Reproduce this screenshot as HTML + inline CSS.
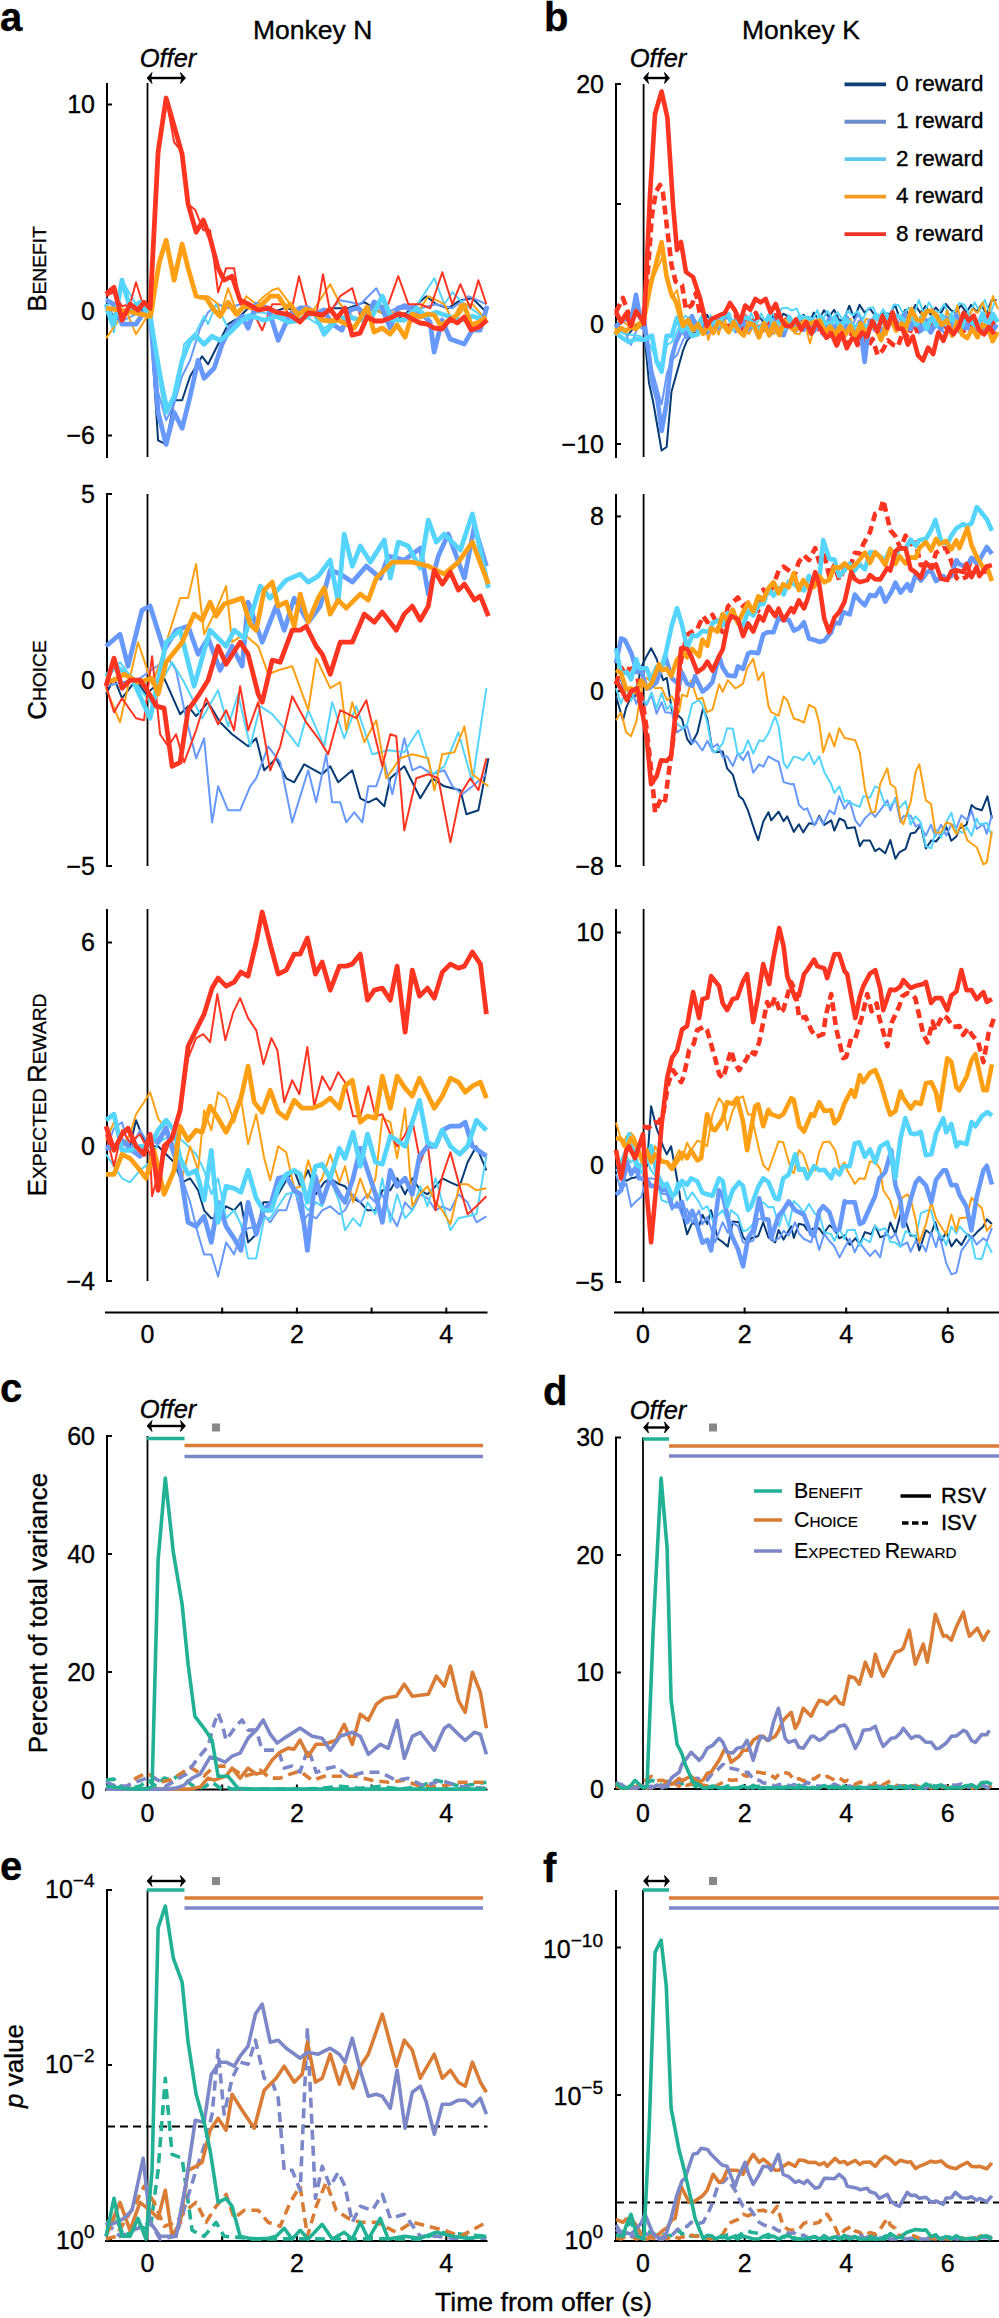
<!DOCTYPE html>
<html><head><meta charset="utf-8"><style>
html,body{margin:0;padding:0;background:#fff;}
svg{display:block;font-family:"Liberation Sans", sans-serif;}
text{stroke:#000;stroke-width:0.35px;}
</style></head><body>
<svg width="999" height="2318" viewBox="0 0 999 2318">
<rect width="999" height="2318" fill="#fff"/>
<text x="0" y="31" font-size="40" text-anchor="start" font-weight="bold" font-style="normal" >a</text>
<text x="544" y="31" font-size="40" text-anchor="start" font-weight="bold" font-style="normal" >b</text>
<text x="253" y="39" font-size="26.5" text-anchor="start" font-weight="normal" font-style="normal" >Monkey N</text>
<text x="742" y="39" font-size="26.5" text-anchor="start" font-weight="normal" font-style="normal" >Monkey K</text>
<text x="168" y="67" font-size="25.5" font-style="italic" text-anchor="middle">Offer</text>
<line x1="150.5" y1="78" x2="182" y2="78" stroke="#000" stroke-width="2.4" />
<path d="M147.0,78 L152.0,72.5 L150.7,78 L152.0,83.5 z M185.5,78 L180.5,72.5 L181.8,78 L180.5,83.5 z" fill="#000" stroke="#000" stroke-width="0.8" stroke-linejoin="round"/>
<text x="658" y="67" font-size="25.5" font-style="italic" text-anchor="middle">Offer</text>
<line x1="647" y1="78" x2="666" y2="78" stroke="#000" stroke-width="2.4" />
<path d="M643.5,78 L648.5,72.5 L647.2,78 L648.5,83.5 z M669.5,78 L664.5,72.5 L665.8,78 L664.5,83.5 z" fill="#000" stroke="#000" stroke-width="0.8" stroke-linejoin="round"/>
<line x1="107" y1="83" x2="107" y2="458" stroke="#000" stroke-width="2.0" />
<line x1="106" y1="104.5" x2="112" y2="104.5" stroke="#000" stroke-width="2.0" />
<text x="95" y="113.3" font-size="25" text-anchor="end">10</text>
<line x1="106" y1="311.4" x2="112" y2="311.4" stroke="#000" stroke-width="2.0" />
<text x="95" y="320.2" font-size="25" text-anchor="end">0</text>
<line x1="106" y1="435.5" x2="112" y2="435.5" stroke="#000" stroke-width="2.0" />
<text x="95" y="444.3" font-size="25" text-anchor="end">−6</text>
<line x1="147.5" y1="83" x2="147.5" y2="457" stroke="#000" stroke-width="1.8" />
<line x1="616" y1="84" x2="616" y2="458" stroke="#000" stroke-width="2.0" />
<line x1="615" y1="84" x2="621" y2="84" stroke="#000" stroke-width="2.0" />
<text x="604" y="92.8" font-size="25" text-anchor="end">20</text>
<line x1="615" y1="204" x2="621" y2="204" stroke="#000" stroke-width="2.0" />
<line x1="615" y1="324" x2="621" y2="324" stroke="#000" stroke-width="2.0" />
<text x="604" y="332.8" font-size="25" text-anchor="end">0</text>
<line x1="615" y1="444" x2="621" y2="444" stroke="#000" stroke-width="2.0" />
<text x="604" y="452.8" font-size="25" text-anchor="end">−10</text>
<line x1="643.6" y1="84" x2="643.6" y2="457" stroke="#000" stroke-width="1.8" />
<text transform="translate(46,269) rotate(-90)" text-anchor="middle" font-size="26"><tspan font-size="26">B</tspan><tspan font-size="19.2">ENEFIT</tspan></text>
<line x1="107" y1="494" x2="107" y2="866" stroke="#000" stroke-width="2.0" />
<line x1="106" y1="494" x2="112" y2="494" stroke="#000" stroke-width="2.0" />
<text x="95" y="502.8" font-size="25" text-anchor="end">5</text>
<line x1="106" y1="680" x2="112" y2="680" stroke="#000" stroke-width="2.0" />
<text x="95" y="688.8" font-size="25" text-anchor="end">0</text>
<line x1="106" y1="866" x2="112" y2="866" stroke="#000" stroke-width="2.0" />
<text x="95" y="874.8" font-size="25" text-anchor="end">−5</text>
<line x1="147.5" y1="494" x2="147.5" y2="866" stroke="#000" stroke-width="1.8" />
<line x1="616" y1="494" x2="616" y2="866" stroke="#000" stroke-width="2.0" />
<line x1="615" y1="516.4" x2="621" y2="516.4" stroke="#000" stroke-width="2.0" />
<text x="604" y="525.1999999999999" font-size="25" text-anchor="end">8</text>
<line x1="615" y1="691.2" x2="621" y2="691.2" stroke="#000" stroke-width="2.0" />
<text x="604" y="700.0" font-size="25" text-anchor="end">0</text>
<line x1="615" y1="866" x2="621" y2="866" stroke="#000" stroke-width="2.0" />
<text x="604" y="874.8" font-size="25" text-anchor="end">−8</text>
<line x1="643.6" y1="494" x2="643.6" y2="866" stroke="#000" stroke-width="1.8" />
<text transform="translate(46,680) rotate(-90)" text-anchor="middle" font-size="26"><tspan font-size="26">C</tspan><tspan font-size="19.2">HOICE</tspan></text>
<line x1="107" y1="909" x2="107" y2="1281" stroke="#000" stroke-width="2.0" />
<line x1="106" y1="942.5" x2="112" y2="942.5" stroke="#000" stroke-width="2.0" />
<text x="95" y="951.3" font-size="25" text-anchor="end">6</text>
<line x1="106" y1="1145.75" x2="112" y2="1145.75" stroke="#000" stroke-width="2.0" />
<text x="95" y="1154.55" font-size="25" text-anchor="end">0</text>
<line x1="106" y1="1281" x2="112" y2="1281" stroke="#000" stroke-width="2.0" />
<text x="95" y="1289.8" font-size="25" text-anchor="end">−4</text>
<line x1="147.5" y1="909" x2="147.5" y2="1281" stroke="#000" stroke-width="1.8" />
<line x1="616" y1="909" x2="616" y2="1282" stroke="#000" stroke-width="2.0" />
<line x1="615" y1="932.5" x2="621" y2="932.5" stroke="#000" stroke-width="2.0" />
<text x="604" y="941.3" font-size="25" text-anchor="end">10</text>
<line x1="615" y1="1165.6" x2="621" y2="1165.6" stroke="#000" stroke-width="2.0" />
<text x="604" y="1174.3999999999999" font-size="25" text-anchor="end">0</text>
<line x1="615" y1="1282" x2="621" y2="1282" stroke="#000" stroke-width="2.0" />
<text x="604" y="1290.8" font-size="25" text-anchor="end">−5</text>
<line x1="643.6" y1="909" x2="643.6" y2="1282" stroke="#000" stroke-width="1.8" />
<text transform="translate(46,1095) rotate(-90)" text-anchor="middle" font-size="26"><tspan font-size="26">E</tspan><tspan font-size="19.2">XPECTED </tspan><tspan font-size="26">R</tspan><tspan font-size="19.2">EWARD</tspan></text>
<line x1="105" y1="1312.6" x2="487.5" y2="1312.6" stroke="#000" stroke-width="2.0" />
<line x1="222.2" y1="1313.6" x2="222.2" y2="1307.6" stroke="#000" stroke-width="2.0" />
<line x1="296.9" y1="1313.6" x2="296.9" y2="1307.6" stroke="#000" stroke-width="2.0" />
<line x1="371.6" y1="1313.6" x2="371.6" y2="1307.6" stroke="#000" stroke-width="2.0" />
<line x1="446.3" y1="1313.6" x2="446.3" y2="1307.6" stroke="#000" stroke-width="2.0" />
<text x="147.5" y="1343" font-size="25" text-anchor="middle">0</text>
<text x="296.9" y="1343" font-size="25" text-anchor="middle">2</text>
<text x="446.3" y="1343" font-size="25" text-anchor="middle">4</text>
<line x1="614" y1="1312.5" x2="999" y2="1312.5" stroke="#000" stroke-width="2.0" />
<line x1="643.0" y1="1313.5" x2="643.0" y2="1307.5" stroke="#000" stroke-width="2.0" />
<line x1="744.6" y1="1313.5" x2="744.6" y2="1307.5" stroke="#000" stroke-width="2.0" />
<line x1="846.2" y1="1313.5" x2="846.2" y2="1307.5" stroke="#000" stroke-width="2.0" />
<line x1="947.8" y1="1313.5" x2="947.8" y2="1307.5" stroke="#000" stroke-width="2.0" />
<text x="643" y="1343" font-size="25" text-anchor="middle">0</text>
<text x="744.6" y="1343" font-size="25" text-anchor="middle">2</text>
<text x="846.2" y="1343" font-size="25" text-anchor="middle">4</text>
<text x="947.8" y="1343" font-size="25" text-anchor="middle">6</text>
<line x1="844.5" y1="84.3" x2="886" y2="84.3" stroke="#123f7a" stroke-width="3.8" />
<text x="896" y="90.8" font-size="22.5" text-anchor="start" font-weight="normal" font-style="normal" >0 reward</text>
<line x1="844.5" y1="121.75" x2="886" y2="121.75" stroke="#6b8dcc" stroke-width="3.8" />
<text x="896" y="128.25" font-size="22.5" text-anchor="start" font-weight="normal" font-style="normal" >1 reward</text>
<line x1="844.5" y1="159.2" x2="886" y2="159.2" stroke="#62c9ee" stroke-width="3.8" />
<text x="896" y="165.7" font-size="22.5" text-anchor="start" font-weight="normal" font-style="normal" >2 reward</text>
<line x1="844.5" y1="196.65" x2="886" y2="196.65" stroke="#f59b1f" stroke-width="3.8" />
<text x="896" y="203.15" font-size="22.5" text-anchor="start" font-weight="normal" font-style="normal" >4 reward</text>
<line x1="844.5" y1="234.10000000000002" x2="886" y2="234.10000000000002" stroke="#ec3528" stroke-width="3.8" />
<text x="896" y="240.60000000000002" font-size="22.5" text-anchor="start" font-weight="normal" font-style="normal" >8 reward</text>
<text x="0" y="1402" font-size="40" text-anchor="start" font-weight="bold" font-style="normal" >c</text>
<text x="543" y="1405" font-size="40" text-anchor="start" font-weight="bold" font-style="normal" >d</text>
<line x1="107" y1="1436" x2="107" y2="1790" stroke="#000" stroke-width="2.0" />
<line x1="106" y1="1436" x2="112" y2="1436" stroke="#000" stroke-width="2.0" />
<text x="95" y="1444.8" font-size="25" text-anchor="end">60</text>
<line x1="106" y1="1554" x2="112" y2="1554" stroke="#000" stroke-width="2.0" />
<text x="95" y="1562.8" font-size="25" text-anchor="end">40</text>
<line x1="106" y1="1672" x2="112" y2="1672" stroke="#000" stroke-width="2.0" />
<text x="95" y="1680.8" font-size="25" text-anchor="end">20</text>
<line x1="106" y1="1790" x2="112" y2="1790" stroke="#000" stroke-width="2.0" />
<text x="95" y="1798.8" font-size="25" text-anchor="end">0</text>
<line x1="147.5" y1="1436" x2="147.5" y2="1790" stroke="#000" stroke-width="1.8" />
<text transform="translate(47,1613) rotate(-90)" text-anchor="middle" font-size="26">Percent of total variance</text>
<line x1="105" y1="1789.5" x2="487.5" y2="1789.5" stroke="#000" stroke-width="2.0" />
<line x1="222.2" y1="1790.5" x2="222.2" y2="1784.5" stroke="#000" stroke-width="2.0" />
<line x1="296.9" y1="1790.5" x2="296.9" y2="1784.5" stroke="#000" stroke-width="2.0" />
<line x1="371.6" y1="1790.5" x2="371.6" y2="1784.5" stroke="#000" stroke-width="2.0" />
<line x1="446.3" y1="1790.5" x2="446.3" y2="1784.5" stroke="#000" stroke-width="2.0" />
<text x="147.5" y="1822" font-size="25" text-anchor="middle">0</text>
<text x="296.9" y="1822" font-size="25" text-anchor="middle">2</text>
<text x="446.3" y="1822" font-size="25" text-anchor="middle">4</text>
<line x1="616" y1="1437.5" x2="616" y2="1789" stroke="#000" stroke-width="2.0" />
<line x1="615" y1="1437.5" x2="621" y2="1437.5" stroke="#000" stroke-width="2.0" />
<text x="604" y="1446.3" font-size="25" text-anchor="end">30</text>
<line x1="615" y1="1555" x2="621" y2="1555" stroke="#000" stroke-width="2.0" />
<text x="604" y="1563.8" font-size="25" text-anchor="end">20</text>
<line x1="615" y1="1672.5" x2="621" y2="1672.5" stroke="#000" stroke-width="2.0" />
<text x="604" y="1681.3" font-size="25" text-anchor="end">10</text>
<line x1="615" y1="1789" x2="621" y2="1789" stroke="#000" stroke-width="2.0" />
<text x="604" y="1797.8" font-size="25" text-anchor="end">0</text>
<line x1="643" y1="1437.5" x2="643" y2="1789" stroke="#000" stroke-width="1.8" />
<line x1="614" y1="1789" x2="999" y2="1789" stroke="#000" stroke-width="2.0" />
<line x1="643.0" y1="1790" x2="643.0" y2="1784" stroke="#000" stroke-width="2.0" />
<line x1="744.6" y1="1790" x2="744.6" y2="1784" stroke="#000" stroke-width="2.0" />
<line x1="846.2" y1="1790" x2="846.2" y2="1784" stroke="#000" stroke-width="2.0" />
<line x1="947.8" y1="1790" x2="947.8" y2="1784" stroke="#000" stroke-width="2.0" />
<text x="643" y="1822" font-size="25" text-anchor="middle">0</text>
<text x="744.6" y="1822" font-size="25" text-anchor="middle">2</text>
<text x="846.2" y="1822" font-size="25" text-anchor="middle">4</text>
<text x="947.8" y="1822" font-size="25" text-anchor="middle">6</text>
<text x="168" y="1418" font-size="25.5" font-style="italic" text-anchor="middle">Offer</text>
<line x1="150.5" y1="1426" x2="182" y2="1426" stroke="#000" stroke-width="2.4" />
<path d="M147.0,1426 L152.0,1420.5 L150.7,1426 L152.0,1431.5 z M185.5,1426 L180.5,1420.5 L181.8,1426 L180.5,1431.5 z" fill="#000" stroke="#000" stroke-width="0.8" stroke-linejoin="round"/>
<text x="658" y="1419" font-size="25.5" font-style="italic" text-anchor="middle">Offer</text>
<line x1="647" y1="1427.5" x2="666" y2="1427.5" stroke="#000" stroke-width="2.4" />
<path d="M643.5,1427.5 L648.5,1422.0 L647.2,1427.5 L648.5,1433.0 z M669.5,1427.5 L664.5,1422.0 L665.8,1427.5 L664.5,1433.0 z" fill="#000" stroke="#000" stroke-width="0.8" stroke-linejoin="round"/>
<rect x="212" y="1423.5" width="8" height="8" fill="#888888"/>
<rect x="709" y="1423.5" width="8" height="8" fill="#888888"/>
<line x1="147" y1="1438.5" x2="184.5" y2="1438.5" stroke="#22b194" stroke-width="3.5" />
<line x1="184.5" y1="1445.5" x2="483" y2="1445.5" stroke="#d97d36" stroke-width="3.5" />
<line x1="184.5" y1="1456.5" x2="483" y2="1456.5" stroke="#7c87c8" stroke-width="3.5" />
<line x1="643" y1="1439" x2="669" y2="1439" stroke="#22b194" stroke-width="3.5" />
<line x1="669" y1="1446" x2="999" y2="1446" stroke="#d97d36" stroke-width="3.5" />
<line x1="669" y1="1456" x2="999" y2="1456" stroke="#7c87c8" stroke-width="3.5" />
<line x1="754" y1="1491" x2="782" y2="1491" stroke="#22b194" stroke-width="3.5" />
<text x="794" y="1497.8" font-size="21.3" style="stroke-width:0.2px"><tspan font-size="21.3">B</tspan><tspan font-size="15.3">ENEFIT</tspan></text>
<line x1="754" y1="1520" x2="782" y2="1520" stroke="#d97d36" stroke-width="3.5" />
<text x="794" y="1526.8" font-size="21.3" style="stroke-width:0.2px"><tspan font-size="21.3">C</tspan><tspan font-size="15.3">HOICE</tspan></text>
<line x1="754" y1="1551" x2="782" y2="1551" stroke="#7c87c8" stroke-width="3.5" />
<text x="794" y="1557.8" font-size="21.3" style="stroke-width:0.2px"><tspan font-size="21.3">E</tspan><tspan font-size="15.3">XPECTED </tspan><tspan font-size="21.3">R</tspan><tspan font-size="15.3">EWARD</tspan></text>
<line x1="900.5" y1="1496" x2="931" y2="1496" stroke="#000" stroke-width="3.5" />
<line x1="902" y1="1523" x2="928" y2="1523" stroke="#000" stroke-width="3.5" stroke-dasharray="6.5,3.5"/>
<text x="941" y="1502.5" font-size="22" text-anchor="start" font-weight="normal" font-style="normal" >RSV</text>
<text x="941" y="1529.5" font-size="22" text-anchor="start" font-weight="normal" font-style="normal" >ISV</text>
<text x="0" y="1880" font-size="40" text-anchor="start" font-weight="bold" font-style="normal" >e</text>
<text x="543" y="1882" font-size="40" text-anchor="start" font-weight="bold" font-style="normal" >f</text>
<line x1="107" y1="1890" x2="107" y2="2241" stroke="#000" stroke-width="2.0" />
<line x1="106" y1="1890" x2="112" y2="1890" stroke="#000" stroke-width="2.0" />
<line x1="106" y1="2065" x2="112" y2="2065" stroke="#000" stroke-width="2.0" />
<line x1="106" y1="2240" x2="112" y2="2240" stroke="#000" stroke-width="2.0" />
<text x="94.5" y="1898" font-size="25" text-anchor="end">10<tspan font-size="19" dy="-11">−4</tspan></text>
<text x="94.5" y="2073" font-size="25" text-anchor="end">10<tspan font-size="19" dy="-11">−2</tspan></text>
<text x="94.5" y="2249" font-size="25" text-anchor="end">10<tspan font-size="19" dy="-11">0</tspan></text>
<line x1="147.5" y1="1890" x2="147.5" y2="2241" stroke="#000" stroke-width="1.8" />
<line x1="105" y1="2241" x2="487.5" y2="2241" stroke="#000" stroke-width="2.0" />
<line x1="222.2" y1="2242" x2="222.2" y2="2236" stroke="#000" stroke-width="2.0" />
<line x1="296.9" y1="2242" x2="296.9" y2="2236" stroke="#000" stroke-width="2.0" />
<line x1="371.6" y1="2242" x2="371.6" y2="2236" stroke="#000" stroke-width="2.0" />
<line x1="446.3" y1="2242" x2="446.3" y2="2236" stroke="#000" stroke-width="2.0" />
<text x="147.5" y="2272" font-size="25" text-anchor="middle">0</text>
<text x="296.9" y="2272" font-size="25" text-anchor="middle">2</text>
<text x="446.3" y="2272" font-size="25" text-anchor="middle">4</text>
<text transform="translate(23,2066) rotate(-90)" text-anchor="middle" font-size="26"><tspan font-style="italic">p</tspan> value</text>
<line x1="107" y1="2126.5" x2="487.5" y2="2126.5" stroke="#000" stroke-width="2" stroke-dasharray="8,5"/>
<line x1="616" y1="1890" x2="616" y2="2241" stroke="#000" stroke-width="2.0" />
<line x1="615" y1="1947.5" x2="621" y2="1947.5" stroke="#000" stroke-width="2.0" />
<line x1="615" y1="2095" x2="621" y2="2095" stroke="#000" stroke-width="2.0" />
<line x1="615" y1="2240" x2="621" y2="2240" stroke="#000" stroke-width="2.0" />
<text x="603" y="1957.5" font-size="25" text-anchor="end">10<tspan font-size="19" dy="-11">−10</tspan></text>
<text x="603" y="2105" font-size="25" text-anchor="end">10<tspan font-size="19" dy="-11">−5</tspan></text>
<text x="603" y="2249" font-size="25" text-anchor="end">10<tspan font-size="19" dy="-11">0</tspan></text>
<line x1="643" y1="1890" x2="643" y2="2241" stroke="#000" stroke-width="1.8" />
<line x1="614" y1="2241" x2="999" y2="2241" stroke="#000" stroke-width="2.0" />
<line x1="643.0" y1="2242" x2="643.0" y2="2236" stroke="#000" stroke-width="2.0" />
<line x1="744.6" y1="2242" x2="744.6" y2="2236" stroke="#000" stroke-width="2.0" />
<line x1="846.2" y1="2242" x2="846.2" y2="2236" stroke="#000" stroke-width="2.0" />
<line x1="947.8" y1="2242" x2="947.8" y2="2236" stroke="#000" stroke-width="2.0" />
<text x="643" y="2272" font-size="25" text-anchor="middle">0</text>
<text x="744.6" y="2272" font-size="25" text-anchor="middle">2</text>
<text x="846.2" y="2272" font-size="25" text-anchor="middle">4</text>
<text x="947.8" y="2272" font-size="25" text-anchor="middle">6</text>
<line x1="616" y1="2202.5" x2="999" y2="2202.5" stroke="#000" stroke-width="2" stroke-dasharray="8,5"/>
<line x1="150.5" y1="1881" x2="182" y2="1881" stroke="#000" stroke-width="2.4" />
<path d="M147.0,1881 L152.0,1875.5 L150.7,1881 L152.0,1886.5 z M185.5,1881 L180.5,1875.5 L181.8,1881 L180.5,1886.5 z" fill="#000" stroke="#000" stroke-width="0.8" stroke-linejoin="round"/>
<line x1="647" y1="1881" x2="666" y2="1881" stroke="#000" stroke-width="2.4" />
<path d="M643.5,1881 L648.5,1875.5 L647.2,1881 L648.5,1886.5 z M669.5,1881 L664.5,1875.5 L665.8,1881 L664.5,1886.5 z" fill="#000" stroke="#000" stroke-width="0.8" stroke-linejoin="round"/>
<rect x="212" y="1877" width="8" height="8" fill="#888888"/>
<rect x="709" y="1877" width="8" height="8" fill="#888888"/>
<line x1="147" y1="1890" x2="184.5" y2="1890" stroke="#22b194" stroke-width="3.5" />
<line x1="184.5" y1="1898" x2="483" y2="1898" stroke="#d97d36" stroke-width="3.5" />
<line x1="184.5" y1="1908" x2="483" y2="1908" stroke="#7c87c8" stroke-width="3.5" />
<line x1="643" y1="1890" x2="669" y2="1890" stroke="#22b194" stroke-width="3.5" />
<line x1="669" y1="1898" x2="999" y2="1898" stroke="#d97d36" stroke-width="3.5" />
<line x1="669" y1="1908" x2="999" y2="1908" stroke="#7c87c8" stroke-width="3.5" />
<text x="435" y="2311" font-size="26.6" text-anchor="start" font-weight="normal" font-style="normal" >Time from offer (s)</text>
<g stroke-linecap="butt">
<polyline points="106.0,304.2 116.0,320.2 124.0,312.2 140.0,308.2 150.1,316.2 158.1,440.4 166.1,444.4 174.1,400.3 182.1,400.3 190.1,376.3 202.1,356.3 208.1,364.3 216.1,348.3 228.1,324.2 238.1,318.2 248.1,308.2 260.2,304.2 272.2,312.2 284.2,308.2 300.2,310.2 316.2,312.2 332.2,308.2 348.2,308.2 364.3,302.2 380.3,312.2 396.3,320.2 412.3,308.2 426.3,296.2 436.3,304.2 448.3,308.2 460.4,300.2 472.4,298.2 486.4,312.2" fill="none" stroke="#063a72" stroke-width="2.0" stroke-linejoin="round" />
<polyline points="106.0,298.2 124.0,320.2 140.0,312.2 150.1,312.2 158.1,392.3 166.1,420.3 174.1,404.3 182.1,376.3 190.1,360.3 200.1,328.2 208.1,312.2 218.1,304.2 228.1,308.2 240.1,304.2 260.2,306.2 284.2,316.2 308.2,312.2 324.2,316.2 340.2,300.2 360.3,304.2 376.3,288.2 388.3,312.2 404.3,304.2 420.3,308.2 436.3,304.2 452.4,308.2 468.4,296.2 486.4,304.2" fill="none" stroke="#6699fb" stroke-width="2.0" stroke-linejoin="round" />
<polyline points="106.0,310.2 114.0,332.3 122.0,280.2 136.0,304.2 150.1,312.2 158.1,360.3 168.1,408.3 178.1,388.3 184.1,344.3 196.1,332.3 204.1,316.2 208.1,324.2 216.1,304.2 228.1,328.2 240.1,316.2 260.2,312.2 280.2,316.2 308.2,318.2 324.2,328.2 340.2,316.2 356.3,320.2 380.3,304.2 396.3,316.2 412.3,312.2 434.3,278.2 444.3,304.2 452.4,292.2 464.4,304.2 476.4,312.2 486.4,320.2" fill="none" stroke="#55d5fd" stroke-width="2.0" stroke-linejoin="round" />
<polyline points="106.0,338.3 116.0,324.2 126.0,310.2 136.0,334.3 146.0,318.2 152.1,316.2 160.1,260.2 166.1,240.2 174.1,272.2 182.1,244.2 190.1,276.2 196.1,296.2 208.1,296.2 218.1,304.2 220.1,316.2 228.1,288.2 238.1,316.2 246.1,296.2 256.2,304.2 264.2,296.2 272.2,290.2 278.2,288.2 290.2,304.2 300.2,320.2 312.2,312.2 330.2,284.2 340.2,304.2 356.3,320.2 368.3,308.2 380.3,312.2 400.3,312.2 412.3,320.2 428.3,296.2 444.3,304.2 452.4,320.2 460.4,304.2 472.4,304.2 486.4,320.2" fill="none" stroke="#ffa014" stroke-width="2.0" stroke-linejoin="round" />
<polyline points="106.0,296.2 114.0,292.2 122.0,306.2 130.0,304.2 136.0,282.2 144.0,308.2 150.1,306.2 158.1,144.1 166.1,98.0 174.1,142.1 182.1,152.1 188.1,204.1 195.3,210.1 203.3,230.2 210.1,230.2 218.1,292.2 226.1,268.2 234.1,268.2 240.1,304.2 250.2,306.2 262.2,330.3 272.2,304.2 282.2,304.2 290.2,316.2 299.0,276.2 308.2,312.2 316.2,316.2 323.0,274.2 330.2,312.2 340.2,296.2 352.3,288.2 360.3,316.2 372.3,304.2 380.3,308.2 388.3,304.2 398.3,276.2 408.3,304.2 420.3,304.2 430.3,308.2 442.3,272.2 452.4,304.2 460.4,284.2 470.4,308.2 478.4,280.2 486.4,304.2" fill="none" stroke="#ff3522" stroke-width="2.0" stroke-linejoin="round" />
<polyline points="106.0,300.2 114.0,304.2 122.0,324.2 136.0,324.2 144.0,312.2 150.1,312.2 158.1,412.3 166.1,444.4 174.1,412.3 182.1,428.3 190.1,396.3 198.1,360.3 204.1,378.3 214.1,368.3 222.1,344.3 230.1,328.2 242.1,316.2 248.1,328.2 256.2,304.2 268.2,308.2 278.2,340.3 290.0,314.0 300.0,308.0 308.0,308.0 316.0,314.0 324.0,310.0 332.0,324.0 342.0,330.1 350.1,310.0 358.1,308.0 366.1,316.0 374.1,302.0 382.1,308.0 390.1,328.0 398.1,308.0 406.1,307.0 414.1,312.0 422.1,314.0 430.1,322.0 434.1,352.1 442.1,320.0 450.2,339.1 464.2,344.1 472.2,330.1 480.2,330.1 487.2,306.0" fill="none" stroke="#6699fb" stroke-width="4.8" stroke-linejoin="round" />
<polyline points="106.0,304.2 114.0,324.2 122.0,280.2 130.0,308.2 140.0,302.2 150.1,316.2 158.1,364.3 166.1,412.3 174.1,396.3 182.1,360.3 190.1,340.3 196.1,336.3 204.1,344.3 212.1,336.3 220.1,340.3 230.1,332.3 242.1,320.2 252.2,316.2 264.2,320.2 276.2,316.2 288.2,322.2 300.2,320.2 314.2,312.2 324.2,334.3 336.2,320.2 348.2,316.2 360.3,320.2 372.3,316.2 382.3,296.2 392.3,320.2 404.3,320.2 416.3,308.2 426.3,316.2 436.3,312.2 448.3,316.2 460.4,320.2 472.4,316.2 486.4,320.2" fill="none" stroke="#55d5fd" stroke-width="4.8" stroke-linejoin="round" />
<polyline points="106.0,308.2 120.0,310.2 132.0,312.2 150.1,316.2 159.3,262.2 166.1,240.2 174.1,280.2 182.1,244.2 188.1,268.2 196.1,296.2 206.1,298.2 214.1,310.2 220.1,316.2 228.1,302.2 236.1,314.2 244.1,306.2 254.2,308.2 262.2,304.2 270.2,296.2 278.2,296.2 286.2,308.2 290.0,304.0 298.0,315.0 306.0,309.0 313.0,311.0 322.0,320.0 330.0,321.0 338.0,320.0 346.0,324.0 354.1,328.0 367.1,307.0 374.1,332.1 382.1,328.0 390.1,334.1 397.1,325.0 405.1,337.1 412.1,314.0 420.1,317.0 428.1,314.0 434.1,315.0 441.1,326.0 449.1,320.0 457.2,315.0 464.2,305.0 471.2,325.0 479.2,322.0 486.2,317.0" fill="none" stroke="#ffa014" stroke-width="4.8" stroke-linejoin="round" />
<polyline points="106.0,294.2 114.0,287.4 122.0,320.2 130.0,304.2 138.0,310.2 144.0,302.2 150.1,308.2 158.1,152.1 166.1,98.0 174.1,126.0 182.1,154.1 188.1,204.1 196.1,232.2 203.3,220.1 210.1,238.2 218.1,268.2 224.1,280.2 232.1,276.2 240.1,300.2 248.9,304.2 258.2,310.2 268.2,308.2 276.2,312.2 286.2,314.2 290.0,315.0 300.0,322.0 308.0,313.0 316.0,314.0 323.0,315.0 330.0,309.0 337.0,318.0 345.0,308.0 352.1,335.1 360.1,333.1 367.1,317.0 375.1,321.0 382.1,321.0 390.1,318.0 398.1,314.0 405.1,315.0 412.1,319.0 420.1,323.0 427.1,324.0 434.1,328.0 442.1,329.0 450.2,319.0 457.2,323.0 464.2,317.0 471.2,330.1 479.2,327.0 487.2,320.0" fill="none" stroke="#ff3522" stroke-width="4.8" stroke-linejoin="round" />
<polyline points="106.0,694.2 114.0,678.2 122.0,698.2 136.0,680.2 146.0,694.2 164.1,678.2 180.1,714.2 188.1,706.2 196.1,716.2 208.1,702.2 220.1,722.3 232.1,734.3 248.1,746.3 256.2,738.3 264.2,770.3 276.2,758.3 286.2,778.3 294.2,782.3 304.2,764.3 322.2,774.3 330.2,766.3 338.2,782.3 352.3,770.3 360.3,798.3 368.3,802.3 376.3,798.3 384.3,806.3 390.3,778.3 404.3,766.3 420.3,798.3 432.3,778.3 444.3,786.3 460.4,790.3 466.4,814.3 478.4,810.3 488.4,758.3" fill="none" stroke="#063a72" stroke-width="2.0" stroke-linejoin="round" />
<polyline points="106.0,686.2 140.0,678.2 168.1,658.2 176.1,670.2 186.1,718.2 196.1,758.3 204.1,738.3 212.1,822.4 218.1,786.3 228.1,810.3 240.1,810.3 250.2,786.3 256.2,778.3 268.2,746.3 280.2,762.3 292.2,822.4 308.2,770.3 316.2,802.3 326.2,754.3 332.2,802.3 340.2,802.3 346.2,822.4 354.3,812.3 362.3,822.4 368.3,786.3 376.3,786.3 384.3,762.3 392.3,794.3 404.3,738.3 412.3,770.3 420.3,766.3 432.3,774.3 444.3,770.3 452.4,786.3 462.4,794.3 472.4,786.3 486.4,774.3" fill="none" stroke="#6699fb" stroke-width="2.0" stroke-linejoin="round" />
<polyline points="106.0,678.2 120.0,662.2 132.0,678.2 150.1,702.2 172.1,662.2 184.1,682.2 202.1,718.2 218.1,690.2 228.1,726.3 238.1,694.2 250.2,746.3 260.2,706.2 272.2,714.2 286.2,730.3 298.2,746.3 308.2,710.2 324.2,746.3 332.2,702.2 344.2,738.3 356.3,706.2 372.3,754.3 388.3,750.3 404.3,752.3 418.3,730.3 432.3,774.3 444.3,766.3 458.4,732.3 472.4,782.3 486.4,688.2" fill="none" stroke="#55d5fd" stroke-width="2.0" stroke-linejoin="round" />
<polyline points="106.0,688.2 120.0,722.3 138.0,642.2 152.1,684.2 160.1,662.2 180.1,598.1 188.1,598.1 196.1,564.1 204.1,634.2 216.1,610.1 226.1,586.1 232.1,642.2 244.1,634.2 258.2,646.2 268.2,674.2 278.2,670.2 292.2,666.2 308.2,710.2 316.2,658.2 330.2,688.2 340.2,682.2 346.2,730.3 352.3,702.2 364.3,742.3 376.3,720.3 386.3,778.3 400.3,758.3 412.3,754.3 428.3,758.3 434.3,790.3 442.3,754.3 454.4,752.3 464.4,726.3 472.4,774.3 488.4,786.3" fill="none" stroke="#ffa014" stroke-width="2.0" stroke-linejoin="round" />
<polyline points="106.0,686.2 114.0,712.2 122.0,698.2 136.0,718.2 144.0,720.3 152.1,656.2 160.1,734.3 168.1,746.3 176.1,734.3 184.1,762.3 196.1,730.3 206.1,698.2 218.1,724.3 226.1,710.2 234.1,730.3 240.1,686.2 248.1,730.3 258.2,702.2 270.2,770.3 280.2,746.3 292.2,696.2 306.2,722.3 318.2,738.3 328.2,754.3 340.2,710.2 356.3,718.2 366.3,700.2 382.3,766.3 390.3,734.3 396.3,736.3 404.3,830.4 416.3,778.3 428.3,774.3 438.3,778.3 450.4,842.4 460.4,794.3 470.4,778.3 478.4,790.3 486.4,758.3" fill="none" stroke="#ff3522" stroke-width="2.0" stroke-linejoin="round" />
<polyline points="106.0,646.2 120.0,634.2 128.0,666.2 142.0,610.1 150.1,606.1 164.1,650.2 176.1,630.2 188.1,626.2 198.1,654.2 208.1,638.2 220.1,670.2 232.1,646.2 242.1,666.2 248.1,602.1 262.2,642.2 276.2,606.1 284.2,630.2 294.2,598.1 308.2,622.2 320.2,606.1 330.2,570.1 340.2,574.1 352.3,582.1 366.3,566.1 380.3,578.1 388.3,556.1 404.3,560.1 420.3,548.1 428.3,594.1 438.3,556.1 448.3,534.1 464.4,578.1 474.4,526.1 486.4,566.1" fill="none" stroke="#6699fb" stroke-width="4.8" stroke-linejoin="round" />
<polyline points="106.0,676.2 116.0,666.2 132.0,678.2 150.1,718.2 166.1,642.2 180.1,630.2 194.1,686.2 210.1,630.2 226.1,646.2 234.1,630.2 244.1,638.2 260.2,586.1 270.2,598.1 286.2,580.1 300.2,574.1 308.2,582.1 318.2,576.1 330.2,560.1 338.2,602.1 344.2,534.1 352.3,566.1 360.3,546.1 370.3,562.1 384.3,540.1 390.3,578.1 398.3,542.1 408.3,546.1 420.3,568.1 428.3,520.1 436.3,542.1 444.3,534.1 460.4,550.1 472.4,514.0 488.4,588.1" fill="none" stroke="#55d5fd" stroke-width="4.8" stroke-linejoin="round" />
<polyline points="106.0,682.2 114.0,680.2 124.0,674.2 138.0,682.2 152.1,678.2 158.1,694.2 166.1,662.2 182.1,642.2 194.1,614.1 202.1,620.2 210.1,602.1 216.1,616.1 224.1,604.1 242.1,598.1 250.2,624.2 256.2,630.2 264.2,590.1 272.2,582.1 278.2,606.1 286.2,602.1 294.2,626.2 300.2,594.1 308.2,622.2 318.2,598.1 324.2,588.1 330.2,614.1 338.2,600.1 346.2,608.1 360.3,594.1 368.3,600.1 376.3,578.1 392.3,562.1 412.3,562.1 428.3,566.1 444.3,574.1 458.4,562.1 472.4,542.1 488.4,584.1" fill="none" stroke="#ffa014" stroke-width="4.8" stroke-linejoin="round" />
<polyline points="106.0,686.2 114.0,658.2 122.0,688.2 130.0,680.2 140.0,680.2 146.0,688.2 156.1,706.2 164.1,708.2 172.1,766.3 180.1,762.3 188.1,710.2 198.1,696.2 208.1,680.2 218.1,646.2 226.1,664.2 240.1,642.2 248.1,654.2 258.2,694.2 262.2,702.2 272.2,660.2 280.2,662.2 292.2,630.2 300.2,630.2 306.2,626.2 316.2,646.2 322.2,654.2 330.2,674.2 340.2,642.2 352.3,642.2 364.3,614.1 374.3,622.2 382.3,612.1 396.3,630.2 404.3,614.1 412.3,606.1 420.3,620.2 428.3,606.1 434.3,570.1 442.3,584.1 450.4,572.1 458.4,590.1 464.4,584.1 474.4,600.1 480.4,596.1 488.4,616.1" fill="none" stroke="#ff3522" stroke-width="4.8" stroke-linejoin="round" />
</g>
<g>
<polyline points="106.0,1144.3 114.0,1150.3 122.0,1140.3 130.0,1146.3 136.0,1120.2 144.0,1140.3 150.1,1146.3 158.1,1146.3 166.1,1154.3 174.1,1162.3 182.1,1182.3 190.1,1178.3 198.1,1190.3 204.1,1210.3 211.3,1218.3 218.1,1218.3 226.1,1206.3 234.1,1210.3 240.9,1202.3 248.1,1242.4 256.2,1234.3 263.4,1202.3 270.2,1202.3 278.2,1194.3 286.2,1180.3 294.2,1170.3 300.2,1186.3 308.2,1170.3 316.2,1194.3 324.2,1182.3 330.2,1178.3 339.4,1184.3 345.0,1186.3 353.1,1198.3 360.3,1202.3 367.5,1210.3 375.5,1210.3 382.3,1190.3 390.3,1190.3 397.1,1178.3 405.1,1194.3 412.3,1178.3 420.3,1190.3 427.5,1194.3 435.5,1186.3 442.3,1178.3 450.4,1182.3 459.6,1186.3 467.6,1162.3 476.4,1146.3 486.4,1170.3" fill="none" stroke="#063a72" stroke-width="2.0" stroke-linejoin="round" />
<polyline points="106.0,1150.3 114.0,1128.2 122.0,1122.2 130.0,1150.3 140.0,1130.2 150.1,1146.3 158.1,1138.2 166.1,1126.2 174.1,1146.3 182.1,1178.3 190.1,1202.3 198.1,1234.3 204.1,1254.4 211.3,1254.4 218.1,1276.4 226.1,1242.4 234.1,1254.4 240.9,1234.3 248.1,1228.3 256.2,1226.3 263.4,1214.3 270.2,1222.3 278.2,1210.3 286.2,1210.3 294.2,1186.3 302.2,1222.3 308.2,1214.3 316.2,1218.3 322.2,1210.3 330.2,1206.3 339.4,1214.3 345.0,1210.3 353.1,1194.3 360.3,1202.3 367.5,1194.3 375.5,1202.3 382.3,1194.3 390.3,1214.3 397.1,1226.3 405.1,1202.3 412.3,1210.3 420.3,1194.3 427.5,1198.3 435.5,1210.3 442.3,1206.3 450.4,1210.3 458.4,1194.3 467.6,1202.3 476.4,1222.3 486.4,1216.3" fill="none" stroke="#6699fb" stroke-width="2.0" stroke-linejoin="round" />
<polyline points="106.0,1154.3 114.0,1166.3 122.0,1178.3 130.0,1182.3 140.0,1170.3 150.1,1162.3 158.1,1142.3 166.1,1138.2 174.1,1134.2 184.1,1142.3 196.1,1154.3 204.1,1170.3 211.3,1194.3 218.1,1178.3 226.1,1218.3 234.1,1210.3 240.9,1224.3 248.1,1258.4 256.2,1258.4 264.2,1218.3 270.2,1218.3 278.2,1206.3 286.2,1194.3 294.2,1192.3 302.2,1202.3 308.2,1210.3 316.2,1202.3 322.2,1206.3 330.2,1178.3 339.4,1202.3 345.0,1230.3 353.1,1218.3 360.3,1226.3 367.5,1202.3 375.5,1214.3 382.3,1178.3 390.3,1222.3 397.1,1194.3 405.1,1218.3 412.3,1210.3 420.3,1186.3 427.5,1206.3 435.5,1178.3 442.3,1202.3 450.4,1230.3 458.4,1218.3 467.6,1216.3 476.4,1214.3 486.4,1156.3" fill="none" stroke="#55d5fd" stroke-width="2.0" stroke-linejoin="round" />
<polyline points="106.0,1140.3 114.0,1122.2 122.0,1146.3 130.0,1134.2 136.0,1114.2 144.0,1102.2 150.1,1092.2 158.1,1118.2 166.1,1130.2 174.1,1146.3 182.1,1178.3 190.1,1146.3 198.1,1170.3 204.1,1110.2 211.3,1130.2 218.1,1092.2 226.1,1098.2 234.1,1122.2 240.9,1098.2 248.1,1144.3 256.2,1114.2 264.2,1158.3 270.2,1180.3 278.2,1146.3 286.2,1152.3 294.2,1188.3 302.2,1186.3 308.2,1160.3 316.2,1186.3 322.2,1178.3 330.2,1154.3 339.4,1182.3 345.0,1166.3 353.1,1202.3 360.3,1178.3 367.5,1198.3 375.5,1178.3 382.3,1118.2 390.3,1122.2 397.1,1158.3 405.1,1108.2 412.3,1206.3 419.5,1194.3 427.5,1186.3 435.5,1202.3 442.3,1210.3 450.4,1224.3 459.6,1184.3 467.6,1184.3 476.4,1190.3 486.4,1188.3" fill="none" stroke="#ffa014" stroke-width="2.0" stroke-linejoin="round" />
<polyline points="106.0,1134.2 114.0,1166.3 122.0,1130.2 130.0,1142.3 140.0,1134.2 150.1,1154.3 152.1,1196.3 160.1,1166.3 168.1,1146.3 180.1,1114.2 188.1,1058.2 196.1,1038.1 203.3,1034.1 210.1,1042.2 217.3,994.1 225.3,1040.2 233.3,1012.1 240.1,998.1 248.1,1018.1 256.2,1030.1 263.4,1064.2 271.4,1038.1 277.4,1050.2 284.2,1102.2 292.2,1080.2 299.4,1094.2 307.4,1047.0 314.2,1106.2 322.2,1076.2 330.2,1090.2 338.2,1072.2 345.0,1082.2 353.1,1116.2 360.3,1116.2 368.3,1086.2 375.5,1116.2 382.3,1114.2 390.3,1134.2 397.1,1146.3 404.3,1136.2 412.3,1120.2 420.3,1162.3 427.5,1142.3 435.5,1210.3 442.3,1176.3 450.4,1152.3 459.6,1186.3 467.6,1214.3 476.4,1206.3 486.4,1196.3" fill="none" stroke="#ff3522" stroke-width="2.0" stroke-linejoin="round" />
<polyline points="106.0,1148.3 114.0,1146.3 122.0,1140.3 132.0,1150.3 140.0,1156.3 150.1,1138.2 158.1,1142.3 166.1,1128.2 174.1,1154.3 180.1,1170.3 188.1,1222.3 196.1,1226.3 204.1,1216.3 211.3,1242.4 218.1,1202.3 226.1,1226.3 234.1,1238.3 240.9,1250.4 248.1,1202.3 256.2,1234.3 263.4,1210.3 271.4,1202.3 278.2,1178.3 286.2,1176.3 294.2,1190.3 300.2,1194.3 307.4,1250.4 315.4,1176.3 322.2,1202.3 330.2,1178.3 339.4,1194.3 345.0,1202.3 353.1,1178.3 360.3,1148.3 367.5,1170.3 375.5,1194.3 382.3,1222.3 390.3,1170.3 397.1,1186.3 405.1,1178.3 412.3,1194.3 419.5,1156.3 427.5,1146.3 435.5,1146.3 442.3,1130.2 450.4,1126.2 459.6,1126.2 465.2,1122.2 472.4,1146.3 486.4,1156.3" fill="none" stroke="#6699fb" stroke-width="4.8" stroke-linejoin="round" />
<polyline points="106.0,1120.2 114.0,1114.2 122.0,1150.3 130.0,1150.3 140.0,1146.3 150.1,1146.3 158.1,1130.2 166.1,1120.2 174.1,1130.2 180.1,1158.3 188.1,1174.3 196.1,1170.3 204.1,1200.3 211.3,1150.3 218.1,1222.3 226.1,1186.3 234.1,1188.3 240.9,1192.3 248.1,1170.3 256.2,1198.3 263.4,1210.3 271.4,1210.3 278.2,1188.3 286.2,1174.3 294.2,1170.3 300.2,1174.3 307.4,1202.3 315.4,1166.3 322.2,1164.3 330.2,1178.3 339.4,1148.3 345.0,1158.3 353.1,1132.2 360.3,1166.3 367.5,1134.2 375.5,1162.3 382.3,1164.3 390.3,1136.2 397.1,1140.3 405.1,1146.3 412.3,1122.2 419.5,1100.2 427.5,1142.3 435.5,1146.3 442.3,1130.2 450.4,1146.3 459.6,1154.3 467.6,1146.3 476.4,1120.2 486.4,1130.2" fill="none" stroke="#55d5fd" stroke-width="4.8" stroke-linejoin="round" />
<polyline points="106.0,1174.3 114.0,1174.3 122.0,1154.3 130.0,1158.3 140.0,1170.3 146.0,1178.3 154.1,1150.3 164.1,1194.3 174.1,1170.3 180.1,1126.2 188.1,1140.3 196.1,1130.2 202.1,1132.2 210.1,1106.2 218.1,1118.2 226.1,1132.2 234.1,1116.2 240.9,1098.2 248.1,1066.2 254.2,1102.2 262.2,1112.2 270.2,1090.2 278.2,1112.2 286.2,1118.2 294.2,1100.2 302.2,1108.2 312.2,1108.2 322.2,1104.2 330.2,1098.2 339.4,1108.2 345.0,1086.2 352.3,1080.2 360.3,1122.2 367.5,1116.2 375.5,1118.2 382.3,1076.2 390.3,1108.2 397.1,1076.2 405.1,1088.2 412.3,1096.2 419.5,1078.2 427.5,1094.2 434.3,1108.2 442.3,1096.2 450.4,1078.2 458.4,1082.2 465.2,1092.2 472.4,1086.2 480.4,1082.2 486.4,1098.2" fill="none" stroke="#ffa014" stroke-width="4.8" stroke-linejoin="round" />
<polyline points="106.0,1126.2 114.0,1150.3 122.0,1134.2 128.0,1128.2 136.0,1146.3 144.0,1154.3 150.1,1134.2 158.1,1190.3 164.1,1146.3 172.1,1138.2 180.1,1110.2 188.1,1046.2 196.1,1030.1 204.1,1014.1 212.1,988.1 218.1,978.1 226.1,986.1 234.1,982.1 240.9,972.1 248.1,976.1 256.2,942.1 262.2,912.0 270.2,944.1 278.2,974.1 286.2,970.1 294.2,954.1 300.2,954.1 307.4,938.0 315.4,974.1 322.2,962.1 330.2,990.1 339.4,966.1 346.2,966.1 352.3,964.1 360.3,954.1 367.5,1000.1 374.3,990.1 382.3,988.1 390.3,1000.1 397.1,966.1 405.1,1032.1 412.3,970.1 419.5,996.1 427.5,988.1 434.3,998.1 442.3,972.1 450.4,964.1 458.4,968.1 464.4,966.1 472.4,952.1 480.4,964.1 486.4,1014.1" fill="none" stroke="#ff3522" stroke-width="4.8" stroke-linejoin="round" />
</g>
<polyline points="615.0,325.0 620.0,328.0 628.0,335.0 636.0,325.0 643.6,326.0 649.0,383.0 653.0,401.0 661.6,450.5 666.6,447.0 671.5,391.5 677.0,372.0 683.0,350.5 687.0,340.6 694.0,333.0 702.0,329.0 707.1,314.7 712.2,326.4 717.2,315.8 722.3,323.1 727.4,314.7 732.5,328.6 737.6,318.6 742.6,322.5 747.7,317.8 752.8,325.6 757.9,314.5 763.0,321.7 768.0,326.0 773.1,315.6 778.2,323.0 783.3,313.7 788.4,316.5 793.4,322.9 798.5,319.6 803.6,314.8 808.7,324.3 813.8,312.6 818.8,320.6 823.9,310.2 829.0,317.1 834.1,309.7 839.2,320.4 844.2,319.4 849.3,305.7 854.4,318.8 859.5,304.8 864.6,312.6 869.6,308.1 874.7,315.1 879.8,315.9 884.9,312.6 890.0,314.2 895.0,304.6 900.1,319.5 905.2,309.9 910.3,315.6 915.4,305.0 920.4,313.0 925.5,306.1 930.6,314.7 935.7,307.5 940.8,313.2 945.8,304.0 950.9,310.2 956.0,312.9 961.1,305.0 966.2,312.6 971.2,304.9 976.3,311.9 981.4,304.9 986.5,313.7 991.6,300.4 996.6,299.9" fill="none" stroke="#063a72" stroke-width="2.0" stroke-linejoin="round" />
<polyline points="615.0,326.0 625.0,332.0 631.0,345.0 638.0,326.0 644.0,330.0 649.0,360.0 655.0,380.0 661.6,404.6 667.0,373.0 672.0,360.0 677.0,355.0 683.0,340.0 690.0,330.0 695.1,319.9 700.2,329.4 705.2,319.2 710.3,332.6 715.4,322.8 720.5,316.7 725.6,329.3 730.6,324.2 735.7,332.7 740.8,319.7 745.9,330.4 751.0,324.6 756.0,328.9 761.1,330.2 766.2,320.6 771.3,334.6 776.4,330.5 781.4,319.8 786.5,329.8 791.6,320.7 796.7,331.7 801.8,320.7 806.8,328.8 811.9,318.1 817.0,328.4 822.1,317.7 827.2,327.5 832.2,331.1 837.3,319.5 842.4,333.0 847.5,316.5 852.6,324.9 857.6,314.5 862.7,321.5 867.8,332.1 872.9,317.7 878.0,327.4 883.0,327.8 888.1,321.9 893.2,318.5 898.3,328.0 903.4,317.7 908.4,330.2 913.5,315.9 918.6,333.3 923.7,330.1 928.8,318.6 933.8,329.5 938.9,323.0 944.0,333.3 949.1,332.1 954.2,322.9 959.2,332.9 964.3,317.9 969.4,330.8 974.5,318.1 979.6,326.1 984.6,315.7 989.7,331.4 994.8,316.0" fill="none" stroke="#6699fb" stroke-width="2.0" stroke-linejoin="round" />
<polyline points="615.0,330.0 625.0,334.0 640.0,336.0 650.0,345.0 657.0,360.0 662.0,365.0 667.0,345.0 672.0,342.0 680.0,325.0 685.1,315.8 690.2,318.1 695.2,327.9 700.3,317.7 705.4,328.5 710.5,315.3 715.6,327.9 720.6,328.3 725.7,325.4 730.8,328.5 735.9,316.2 741.0,322.4 746.0,329.3 751.1,312.9 756.2,325.3 761.3,313.3 766.4,324.6 771.4,311.8 776.5,319.4 781.6,308.4 786.7,307.7 791.8,310.7 796.8,308.4 801.9,322.6 807.0,318.7 812.1,321.9 817.2,310.1 822.2,321.3 827.3,310.7 832.4,318.3 837.5,312.1 842.6,319.6 847.6,311.1 852.7,315.1 857.8,311.4 862.9,319.3 868.0,308.5 873.0,307.1 878.1,318.3 883.2,309.1 888.3,321.2 893.4,305.1 898.4,304.9 903.5,314.0 908.6,307.7 913.7,315.9 918.8,300.0 923.8,313.4 928.9,302.4 934.0,311.3 939.1,311.9 944.2,304.0 949.2,315.0 954.3,311.4 959.4,303.0 964.5,304.7 969.6,314.8 974.6,302.4 979.7,311.2 984.8,299.8 989.9,314.4 995.0,301.5" fill="none" stroke="#55d5fd" stroke-width="2.0" stroke-linejoin="round" />
<polyline points="615.0,330.0 621.0,320.0 630.0,327.0 640.0,322.0 651.0,283.0 662.5,257.0 667.0,278.0 671.5,298.0 677.0,290.0 683.0,320.0 688.1,322.2 693.2,324.9 698.2,335.7 703.3,320.1 708.4,339.9 713.5,318.0 718.6,334.7 723.6,317.4 728.7,329.2 733.8,322.2 738.9,320.3 744.0,326.0 749.0,334.2 754.1,324.2 759.2,335.6 764.3,327.6 769.4,324.1 774.4,333.8 779.5,321.6 784.6,335.7 789.7,320.7 794.8,333.6 799.8,333.9 804.9,323.6 810.0,343.6 815.1,323.3 820.2,324.8 825.2,337.5 830.3,327.3 835.4,340.0 840.5,327.6 845.6,334.8 850.6,318.9 855.7,336.3 860.8,336.6 865.9,318.7 871.0,320.1 876.0,320.2 881.1,316.1 886.2,335.3 891.3,321.1 896.4,329.3 901.4,322.1 906.5,332.4 911.6,320.2 916.7,327.4 921.8,312.1 926.8,326.1 931.9,315.6 937.0,313.5 942.1,325.0 947.2,310.3 952.2,331.5 957.3,305.5 962.4,326.9 967.5,318.7 972.6,308.7 977.6,312.9 982.7,302.2 987.8,317.9 992.9,296.1 998.0,309.1" fill="none" stroke="#ffa014" stroke-width="2.0" stroke-linejoin="round" />
<polyline points="616.0,312.0 623.0,298.0 629.0,315.0 636.0,312.0 643.0,320.0 648.0,270.0 652.0,215.0 656.0,191.5 660.0,185.0 663.0,193.0 667.0,227.5 671.5,265.0 675.6,281.6 682.0,285.0 686.0,309.5 692.0,304.6 696.0,293.0 700.0,315.0 705.0,320.0 710.1,327.7 715.2,320.5 720.2,315.1 725.3,318.0 730.4,325.4 735.5,314.9 740.6,330.7 745.6,316.6 750.7,326.5 755.8,312.8 760.9,329.4 766.0,330.4 771.0,318.0 776.1,315.1 781.2,330.5 786.3,319.4 791.4,328.8 796.4,320.1 801.5,319.9 806.6,330.1 811.7,332.1 816.8,322.4 821.8,335.5 826.9,324.3 832.0,335.6 837.1,339.3 842.2,328.8 847.2,345.6 852.3,331.8 857.4,345.0 862.5,337.2 867.6,347.1 872.6,339.0 877.7,355.3 882.8,350.0 887.9,340.3 893.0,344.8 898.0,346.5 903.1,331.1 908.2,337.7 913.3,322.0 918.4,334.3 923.4,317.2 928.5,328.7 933.6,319.7 938.7,317.5 943.8,329.0 948.8,320.6 953.9,334.4 959.0,320.4 964.1,330.7 969.2,317.3 974.2,332.0 979.3,329.5 984.4,320.0 989.5,314.3 994.6,326.5" fill="none" stroke="#ff3522" stroke-width="4.6" stroke-linejoin="round" stroke-dasharray="9,5" />
<polyline points="615.0,327.0 621.0,322.0 626.0,318.0 631.0,323.0 636.0,294.8 640.0,317.7 644.0,320.0 649.0,355.0 653.0,385.0 657.5,400.0 661.6,431.0 666.6,403.0 671.5,358.7 676.0,342.0 682.0,329.0 687.0,337.0 692.0,316.0 697.0,330.0 702.1,321.1 707.2,332.2 712.2,324.3 717.3,328.4 722.4,317.6 727.5,316.3 732.6,323.2 737.6,329.7 742.7,321.5 747.8,329.7 752.9,322.5 758.0,335.5 763.0,324.1 768.1,331.8 773.2,320.2 778.3,333.4 783.4,335.2 788.4,322.4 793.5,329.9 798.6,320.3 803.7,329.8 808.8,319.6 813.8,331.3 818.9,323.7 824.0,335.1 829.1,318.6 834.2,332.3 839.2,323.1 844.3,328.9 849.4,323.9 854.5,331.8 859.6,321.9 864.6,362.0 869.7,320.8 874.8,329.5 879.9,332.1 885.0,327.5 890.0,317.1 895.1,319.3 900.2,327.8 905.3,314.0 910.4,329.0 915.4,318.6 920.5,329.4 925.6,320.1 930.7,332.4 935.8,321.9 940.8,329.4 945.9,317.9 951.0,328.8 956.1,314.8 961.2,326.8 966.2,328.2 971.3,318.1 976.4,333.6 981.5,332.7 986.6,323.0 991.6,332.8 996.7,324.5" fill="none" stroke="#6699fb" stroke-width="4.6" stroke-linejoin="round" />
<polyline points="615.0,332.5 621.0,337.0 629.0,342.0 636.0,339.0 643.0,340.0 652.0,335.7 656.7,362.0 661.6,371.8 666.6,335.7 671.5,336.0 677.0,317.7 682.0,331.0 687.0,325.0 692.0,336.0 698.0,334.0 703.1,315.5 708.2,329.0 713.2,320.4 718.3,325.6 723.4,315.4 728.5,314.2 733.6,329.2 738.6,318.0 743.7,317.2 748.8,318.8 753.9,327.5 759.0,328.4 764.0,324.6 769.1,315.6 774.2,326.5 779.3,320.5 784.4,328.9 789.4,317.0 794.5,328.0 799.6,316.5 804.7,317.9 809.8,318.4 814.8,325.7 819.9,316.0 825.0,322.8 830.1,323.5 835.2,318.3 840.2,328.2 845.3,319.0 850.4,323.6 855.5,327.3 860.6,323.5 865.6,326.6 870.7,324.9 875.8,314.5 880.9,323.1 886.0,313.8 891.0,323.9 896.1,315.5 901.2,317.5 906.3,323.3 911.4,315.5 916.4,324.8 921.5,317.4 926.6,329.1 931.7,317.3 936.8,325.5 941.8,315.2 946.9,324.9 952.0,316.4 957.1,327.5 962.2,326.0 967.2,314.8 972.3,322.6 977.4,326.3 982.5,313.5 987.6,326.1 992.6,313.8 997.7,322.0" fill="none" stroke="#55d5fd" stroke-width="4.6" stroke-linejoin="round" />
<polyline points="615.0,334.0 621.0,328.0 626.0,331.0 631.0,327.0 636.0,329.0 643.6,321.0 651.0,283.0 661.6,242.0 666.6,276.7 671.0,293.0 676.0,302.0 683.0,326.0 688.0,320.0 693.0,330.0 698.1,324.3 703.2,333.8 708.2,324.6 713.3,333.0 718.4,321.7 723.5,325.2 728.6,332.2 733.6,322.2 738.7,331.1 743.8,335.4 748.9,323.1 754.0,325.0 759.0,337.4 764.1,323.2 769.2,335.3 774.3,323.1 779.4,335.2 784.4,321.0 789.5,326.5 794.6,330.3 799.7,325.0 804.8,321.3 809.8,323.9 814.9,321.6 820.0,320.8 825.1,332.2 830.2,326.4 835.2,334.4 840.3,326.1 845.4,334.6 850.5,325.7 855.6,337.7 860.6,323.1 865.7,334.9 870.8,325.3 875.9,328.4 881.0,340.2 886.0,325.8 891.1,319.3 896.2,330.6 901.3,323.5 906.4,326.4 911.4,309.2 916.5,319.5 921.6,320.9 926.7,311.3 931.8,310.7 936.8,316.5 941.9,324.9 947.0,320.2 952.1,335.6 957.2,321.7 962.2,334.8 967.3,338.0 972.4,328.4 977.5,337.3 982.6,324.7 987.6,327.3 992.7,341.2 997.8,332.0" fill="none" stroke="#ffa014" stroke-width="4.6" stroke-linejoin="round" />
<polyline points="616.0,312.0 621.0,322.0 626.0,314.0 631.0,326.0 636.0,311.0 641.0,318.0 644.0,324.0 650.0,195.0 655.0,114.0 661.6,91.5 667.4,117.7 673.0,204.6 677.0,250.0 681.0,242.0 686.0,272.0 693.0,277.0 700.0,298.0 706.7,326.0 711.6,319.0 718.0,316.0 724.8,313.0 730.0,303.0 735.1,310.6 740.2,322.0 745.2,305.5 750.3,309.8 755.4,298.9 760.5,302.4 765.6,298.9 770.6,312.4 775.7,304.0 780.8,318.6 785.9,326.0 791.0,326.1 796.0,319.5 801.1,329.5 806.2,322.2 811.3,333.5 816.4,321.8 821.4,329.9 826.5,337.8 831.6,333.8 836.7,345.5 841.8,333.4 846.8,348.2 851.9,338.4 857.0,340.4 862.1,332.5 867.2,336.6 872.2,321.0 877.3,331.4 882.4,316.2 887.5,328.0 892.6,312.4 897.6,328.6 902.7,328.8 907.8,344.6 912.9,336.5 918.0,355.4 923.0,360.5 928.1,347.6 933.2,354.0 938.3,332.5 943.4,340.8 948.4,327.4 953.5,334.2 958.6,326.7 963.7,312.8 968.8,320.5 973.8,315.7 978.9,329.7 984.0,334.4 989.1,326.9 994.2,334.3" fill="none" stroke="#ff3522" stroke-width="4.6" stroke-linejoin="round" />
<polyline points="616.0,696.2 623.0,720.2 626.2,707.6 631.2,696.7 635.0,696.2 641.4,666.7 646.5,656.4 651.1,648.2 656.6,658.8 663.1,680.2 666.8,677.9 671.9,710.7 679.1,716.2 682.0,719.1 687.1,738.8 691.1,744.3 697.3,733.1 703.1,708.2 707.4,719.4 712.5,750.8 715.1,752.3 722.7,751.6 727.1,768.3 732.8,774.7 739.1,796.3 743.0,799.4 748.1,810.7 755.2,832.4 758.2,840.1 763.3,821.4 768.4,812.2 771.2,820.3 778.6,811.7 783.6,821.2 787.2,816.3 793.8,831.9 798.9,824.3 803.2,832.4 809.0,823.2 815.2,824.3 819.2,815.9 824.3,824.9 831.2,820.3 834.4,830.6 839.5,818.5 844.6,821.0 847.2,828.3 854.8,827.3 859.8,846.3 863.3,840.4 870.0,840.6 875.1,851.1 879.3,848.4 885.2,853.3 890.3,840.0 895.4,858.8 899.3,852.4 905.6,848.9 910.6,833.4 915.3,832.4 920.8,824.7 925.9,848.5 931.3,840.4 936.0,841.5 943.3,832.4 946.2,826.7 951.3,840.8 956.4,836.5 959.4,828.3 966.5,824.6 971.6,805.1 975.4,808.3 981.8,810.3 987.4,796.3 991.9,818.5" fill="none" stroke="#063a72" stroke-width="2.0" stroke-linejoin="round" />
<polyline points="616.0,684.2 621.1,679.9 626.2,700.1 631.2,689.0 636.3,703.8 639.0,696.2 646.5,705.1 651.6,694.8 656.6,713.7 661.7,702.2 665.1,712.2 671.9,713.0 677.0,732.3 683.1,728.2 687.1,726.3 692.2,743.6 695.1,740.3 702.4,750.5 707.4,740.8 711.1,748.3 717.6,744.1 722.7,757.1 727.1,756.3 732.8,766.1 737.9,753.2 743.1,760.3 748.1,751.5 753.2,772.7 759.2,764.3 763.3,766.7 768.4,756.4 775.2,760.3 778.6,761.6 783.6,782.1 791.2,784.3 793.8,784.0 798.9,804.7 804.0,809.9 807.2,808.3 814.1,825.3 819.2,817.0 823.2,824.3 829.4,810.4 834.4,814.3 839.2,796.3 844.6,808.8 849.7,801.1 855.3,820.3 859.8,826.2 864.9,818.4 871.3,812.3 875.1,816.9 880.2,810.4 887.3,800.3 890.3,810.5 895.4,798.0 900.5,821.9 903.3,816.3 910.6,815.4 915.7,826.5 919.3,824.3 925.9,835.7 931.0,824.7 935.3,836.4 941.1,824.7 946.2,835.5 951.4,824.3 956.4,827.8 961.4,815.3 967.4,820.3 971.6,810.5 976.7,829.0 983.4,824.3 986.8,833.8 991.9,814.9" fill="none" stroke="#6699fb" stroke-width="2.0" stroke-linejoin="round" />
<polyline points="616.0,688.2 621.1,703.8 626.2,688.4 631.2,700.9 636.3,685.5 639.0,692.2 646.5,703.8 651.6,692.3 656.6,708.2 661.7,692.9 666.8,709.5 671.1,704.2 677.0,723.9 683.1,728.2 687.1,724.7 692.2,703.9 699.1,700.2 702.4,704.8 707.4,723.2 712.5,751.4 715.1,752.3 722.7,743.5 727.1,728.2 732.8,728.8 737.9,755.0 743.1,752.3 748.1,740.2 753.2,753.6 759.2,740.3 763.3,741.2 768.4,733.5 775.2,716.2 778.6,726.7 783.6,762.7 787.2,768.3 793.8,756.6 798.9,757.9 803.2,760.3 809.0,752.6 814.1,764.3 819.2,756.3 824.3,772.1 831.2,784.3 834.4,792.9 839.5,786.4 844.6,802.0 847.2,800.3 854.8,805.0 859.8,806.8 863.3,796.3 870.0,797.6 875.1,786.3 879.3,788.3 885.2,805.0 890.3,806.0 895.4,799.4 899.3,808.3 905.6,801.1 910.6,824.7 915.3,816.3 920.8,822.3 925.9,846.2 931.3,848.4 936.0,829.5 941.1,837.7 947.3,820.3 951.3,812.7 956.4,831.0 963.4,832.4 966.5,826.9 971.6,835.8 976.7,818.4 979.4,824.3 986.8,822.9 991.9,836.5" fill="none" stroke="#55d5fd" stroke-width="2.0" stroke-linejoin="round" />
<polyline points="616.0,720.2 621.1,712.5 626.2,732.3 631.0,736.3 636.3,721.7 643.0,680.2 646.5,677.9 651.6,682.9 655.1,688.2 661.7,687.8 667.1,700.2 671.9,696.3 679.1,712.2 682.0,694.8 687.1,696.6 691.1,680.2 697.3,699.2 702.4,697.7 707.1,712.2 712.5,709.7 719.1,684.2 722.7,691.8 727.8,680.1 735.1,688.2 737.9,687.1 743.0,683.6 747.1,668.2 753.2,658.8 758.2,680.1 763.2,672.2 768.4,706.0 771.2,712.2 778.6,715.6 783.6,696.5 787.2,700.2 793.8,718.5 799.2,720.2 804.0,722.6 809.0,704.8 815.2,708.2 819.2,722.8 823.2,752.3 829.4,733.3 834.4,746.3 839.2,728.2 844.6,738.0 849.7,739.1 855.3,740.3 859.8,752.5 864.9,789.2 871.3,812.3 875.1,811.9 880.2,783.8 887.3,768.3 890.3,784.0 895.4,787.8 900.5,819.3 903.3,824.3 910.6,802.3 915.7,771.6 919.3,764.3 925.9,800.5 931.0,803.8 935.3,832.4 941.1,832.4 946.2,822.2 951.4,824.3 956.4,834.3 961.4,823.4 967.4,840.4 971.6,843.5 976.7,847.2 983.4,864.4 986.8,862.3 991.9,831.2" fill="none" stroke="#ffa014" stroke-width="2.0" stroke-linejoin="round" />
<polyline points="616.0,684.5 621.1,667.4 626.2,675.7 631.0,664.2 636.3,672.6 643.0,704.2 646.5,727.8 651.6,774.0 655.1,812.3 661.7,797.1 665.1,800.3 673.1,740.3 677.0,708.2 681.1,660.2 687.1,634.6 691.1,632.2 697.3,629.0 703.1,616.1 707.4,622.2 712.5,614.7 719.1,628.1 722.7,631.9 727.8,606.6 735.1,600.1 737.9,597.5 743.0,606.4 748.1,602.7 755.2,608.1 758.2,611.0 763.3,589.5 768.4,596.1 775.2,580.1 778.6,570.7 783.6,566.7 791.2,572.1 793.8,577.5 798.9,561.7 804.0,555.3 809.0,560.1 815.2,548.1 819.2,562.0 824.3,555.4 829.4,576.6 834.4,564.9 839.2,580.1 844.6,568.3 849.7,568.3 854.8,552.7 859.8,553.6 863.3,544.1 870.0,532.2 875.1,513.9 880.2,511.2 883.3,500.0 890.3,530.3 895.3,536.1 900.5,548.3 905.6,535.7 911.3,544.1 915.7,542.5 920.8,565.2 927.3,564.1 931.0,569.8 936.0,552.8 943.3,548.1 946.2,548.7 951.3,561.2 956.4,577.9 959.4,580.1 966.5,576.9 971.6,556.0 975.4,556.1 981.8,565.2 986.8,573.2" fill="none" stroke="#ff3522" stroke-width="4.6" stroke-linejoin="round" stroke-dasharray="9,5" />
<polyline points="616.0,663.3 621.1,638.4 625.0,640.2 631.2,653.0 637.0,672.2 641.4,670.6 646.5,688.5 649.1,688.2 656.6,682.1 661.7,667.1 665.1,656.2 671.9,678.4 679.1,684.2 682.0,672.7 687.1,683.6 692.2,685.9 695.1,676.2 702.4,691.5 707.1,688.2 712.5,682.0 719.1,656.2 722.7,667.6 727.8,675.4 735.1,676.2 737.9,666.4 743.0,668.9 748.1,653.5 751.2,652.2 758.2,653.1 763.3,634.4 767.2,632.2 773.5,632.3 778.6,617.7 783.2,620.1 788.7,619.8 793.8,630.6 799.2,628.1 804.0,622.3 809.0,638.6 815.2,640.2 819.2,641.9 824.3,640.7 831.2,632.2 834.4,622.5 839.5,623.6 843.2,612.1 849.7,614.4 854.8,594.5 859.3,600.1 864.9,605.2 870.0,594.9 875.3,596.1 880.2,588.1 885.2,601.7 891.3,592.1 895.4,582.6 900.5,592.7 907.3,584.1 910.6,590.7 915.7,574.6 920.8,580.6 927.3,572.1 931.0,570.2 936.0,581.0 943.3,576.1 946.2,578.8 951.3,576.0 956.4,560.3 959.4,564.1 966.5,567.4 971.6,557.8 976.7,563.6 979.4,560.1 986.8,546.9 991.9,553.9" fill="none" stroke="#6699fb" stroke-width="4.6" stroke-linejoin="round" />
<polyline points="616.0,648.2 621.1,673.8 627.0,672.2 631.2,679.3 636.3,659.3 639.0,668.2 646.5,668.0 651.1,680.2 656.6,667.1 661.7,668.1 665.1,656.2 671.9,625.1 677.1,608.1 682.0,624.7 687.1,648.2 692.2,635.4 697.1,636.2 702.4,630.8 709.1,632.2 712.5,623.2 719.1,620.1 722.7,625.4 727.8,613.1 732.8,614.6 739.1,624.1 743.0,625.7 748.1,610.9 753.2,615.5 759.2,604.1 763.3,604.3 768.4,588.7 773.5,595.7 779.2,588.1 783.6,594.3 788.7,581.5 793.8,584.0 799.2,588.1 804.0,590.4 809.0,575.8 814.1,585.1 819.2,580.1 823.2,540.1 829.4,558.9 834.4,559.6 839.2,576.1 844.6,570.1 849.7,563.7 854.8,570.5 859.3,564.1 864.9,569.3 870.0,552.0 875.1,552.8 879.3,556.1 885.2,560.2 890.3,548.9 895.4,556.5 899.3,548.1 905.6,548.4 910.6,539.5 915.7,545.8 919.3,540.1 925.9,539.0 931.0,530.5 935.3,520.0 941.1,540.8 947.3,544.1 951.3,535.8 956.4,528.2 963.4,524.0 966.5,526.3 971.6,523.3 976.7,507.2 979.4,510.0 986.8,519.2 991.9,530.8" fill="none" stroke="#55d5fd" stroke-width="4.6" stroke-linejoin="round" />
<polyline points="616.0,670.1 621.1,673.3 626.2,689.4 631.0,688.2 636.3,692.6 641.4,680.4 647.0,688.2 651.6,683.1 659.1,664.2 661.7,670.4 666.8,668.9 671.1,676.2 677.0,659.9 683.1,652.2 687.1,657.4 692.2,649.0 699.1,656.2 702.4,639.7 707.4,645.9 711.1,628.1 717.6,631.7 722.7,614.0 727.1,620.1 732.8,609.7 737.9,623.2 743.1,612.1 748.1,602.8 753.2,611.5 758.2,596.3 763.2,600.1 768.4,588.3 773.5,582.2 778.6,593.3 783.2,584.1 788.7,587.4 793.8,573.0 798.9,590.1 803.2,580.1 809.0,588.0 814.1,586.8 819.2,576.1 824.3,582.3 829.4,579.6 834.4,566.9 839.2,568.1 844.6,563.4 849.7,568.7 854.8,565.5 859.3,560.1 864.9,552.6 870.0,563.0 875.1,552.3 879.3,556.1 885.2,565.0 890.3,548.8 895.4,563.9 899.3,556.1 905.6,563.4 910.6,557.2 915.7,557.9 919.3,548.1 925.9,542.3 931.0,550.5 936.0,538.8 939.3,544.1 946.2,541.1 951.3,549.4 956.4,540.5 959.4,548.1 967.4,528.0 971.6,545.5 976.7,556.5 983.4,568.1 986.8,566.2 991.9,580.9" fill="none" stroke="#ffa014" stroke-width="4.6" stroke-linejoin="round" />
<polyline points="616.0,680.6 621.1,688.9 627.0,700.2 631.2,691.1 637.0,688.2 643.0,716.2 646.5,736.1 651.1,784.3 656.6,776.3 661.1,760.3 666.8,760.9 671.1,756.3 677.0,697.8 681.1,648.2 687.1,649.0 691.1,656.2 697.3,672.1 703.1,668.2 707.4,661.6 712.5,670.7 719.1,656.2 722.7,649.5 727.8,623.5 731.1,616.1 737.9,619.0 743.1,636.2 748.1,623.5 753.2,631.6 759.2,616.1 763.3,620.5 768.4,606.7 775.2,616.1 778.6,608.6 783.6,620.3 791.2,608.1 793.8,612.2 798.9,600.4 804.0,608.4 807.2,600.1 815.2,572.1 819.2,584.3 824.3,618.8 829.2,632.2 834.4,617.6 839.2,612.1 844.6,601.6 851.3,572.1 854.8,579.1 859.8,582.1 867.3,580.1 870.0,575.2 875.1,579.1 880.2,579.5 887.3,568.1 890.3,570.5 895.4,551.2 899.3,548.1 905.6,548.4 910.6,569.0 915.3,572.1 920.8,577.9 925.9,562.5 931.3,568.1 936.0,564.4 941.1,578.8 947.3,580.1 951.3,571.4 956.4,570.2 963.4,572.1 966.5,563.9 971.6,577.0 976.7,567.0 979.4,576.1 986.8,566.5 991.9,565.1" fill="none" stroke="#ff3522" stroke-width="4.6" stroke-linejoin="round" />
<polyline points="616.0,1166.3 621.1,1177.2 626.2,1180.8 631.0,1178.3 636.3,1177.2 641.4,1164.0 647.0,1166.3 651.1,1106.2 656.6,1128.4 663.1,1146.3 666.8,1154.3 671.1,1146.3 679.1,1190.3 682.0,1212.5 687.1,1234.3 692.2,1222.6 699.1,1226.3 702.4,1214.8 707.4,1224.1 711.1,1210.3 717.6,1238.5 723.1,1242.4 727.8,1246.6 732.8,1221.5 739.1,1222.3 743.0,1237.0 748.1,1242.9 751.2,1238.3 758.2,1236.0 763.2,1222.3 768.4,1237.5 775.2,1242.4 778.6,1230.0 783.6,1239.6 791.2,1226.3 793.8,1237.9 798.9,1223.8 804.0,1224.9 807.2,1230.3 814.1,1228.8 819.2,1228.2 823.2,1234.3 829.4,1225.3 834.4,1229.3 839.2,1238.3 844.6,1235.5 849.7,1244.8 855.3,1238.3 859.8,1244.2 864.9,1232.1 871.3,1234.3 875.1,1225.6 880.2,1237.3 887.3,1234.3 890.3,1222.4 895.4,1233.8 900.5,1214.2 903.3,1214.3 910.6,1235.6 915.7,1236.1 919.3,1250.4 925.9,1230.3 931.0,1234.0 935.3,1222.3 941.1,1241.6 946.2,1232.2 951.4,1246.4 956.4,1239.4 961.4,1245.0 967.4,1234.3 971.6,1238.1 976.7,1232.6 983.4,1226.3 986.8,1219.3 991.9,1224.1" fill="none" stroke="#063a72" stroke-width="2.0" stroke-linejoin="round" />
<polyline points="616.0,1174.0 621.1,1190.6 626.2,1183.2 631.2,1206.7 635.0,1202.3 641.4,1196.7 646.5,1178.5 651.1,1178.3 656.6,1179.6 661.7,1193.7 667.1,1194.3 671.9,1209.8 677.0,1201.6 683.1,1218.3 687.1,1209.1 692.2,1222.9 699.1,1210.3 702.4,1224.4 707.4,1216.9 712.5,1232.9 715.1,1242.4 722.7,1222.2 727.8,1232.7 731.1,1222.3 737.9,1226.0 743.0,1242.5 747.1,1242.4 753.2,1240.9 758.2,1218.9 763.2,1218.3 768.4,1222.1 773.5,1241.2 779.2,1238.3 783.6,1230.8 788.7,1235.6 795.2,1222.3 798.9,1233.5 804.0,1239.0 811.2,1242.4 814.1,1230.8 819.2,1249.9 824.3,1233.6 827.2,1238.3 834.4,1246.5 839.5,1257.4 843.2,1250.4 849.7,1238.7 854.8,1252.3 859.3,1242.4 864.9,1249.9 870.0,1256.0 875.3,1250.4 880.2,1257.3 885.2,1232.7 891.3,1238.3 895.4,1233.4 900.5,1246.3 907.3,1242.4 910.6,1251.7 915.7,1240.9 923.3,1246.4 925.9,1251.6 931.0,1232.0 936.0,1247.2 939.3,1234.3 946.2,1263.1 951.4,1274.4 956.4,1272.6 961.4,1250.8 967.4,1242.4 971.6,1236.1 976.7,1244.6 983.4,1238.3 986.8,1241.3 991.9,1228.1" fill="none" stroke="#6699fb" stroke-width="2.0" stroke-linejoin="round" />
<polyline points="616.0,1169.2 621.1,1176.6 626.2,1156.4 631.0,1162.3 636.3,1157.3 641.4,1173.2 646.5,1158.6 651.1,1170.3 656.6,1177.6 661.7,1200.3 667.1,1202.3 671.9,1202.3 677.0,1182.6 683.1,1186.3 687.1,1200.3 692.2,1192.3 699.1,1202.3 702.4,1209.4 707.4,1206.1 712.5,1220.1 715.1,1218.3 722.7,1210.2 727.8,1221.9 731.1,1210.3 737.9,1215.6 743.0,1231.1 747.1,1230.3 753.2,1223.9 758.2,1205.3 763.2,1202.3 768.4,1207.3 773.5,1207.0 779.2,1226.3 783.6,1211.5 788.7,1226.7 793.8,1201.1 799.2,1206.3 804.0,1212.5 809.0,1203.9 815.2,1214.3 819.2,1213.7 824.3,1232.2 831.2,1234.3 834.4,1241.0 839.5,1229.4 844.6,1239.1 847.2,1230.3 854.8,1229.7 859.8,1245.9 863.3,1238.3 870.0,1242.2 875.1,1225.6 879.3,1230.3 885.2,1228.2 890.3,1242.0 895.3,1242.4 900.5,1247.1 905.6,1231.0 911.3,1234.3 915.7,1237.7 920.8,1213.2 927.3,1210.3 931.0,1209.9 936.0,1229.6 943.3,1238.3 946.2,1245.3 951.3,1226.5 956.4,1233.4 959.4,1226.3 966.5,1233.8 971.6,1240.2 975.4,1258.4 981.8,1259.0 986.8,1242.6 991.9,1252.8" fill="none" stroke="#55d5fd" stroke-width="2.0" stroke-linejoin="round" />
<polyline points="616.0,1122.5 623.0,1146.3 626.2,1136.5 631.2,1133.0 635.0,1138.2 643.0,1162.3 646.5,1154.0 651.6,1161.8 655.1,1146.3 661.7,1159.6 667.1,1162.3 671.9,1165.1 679.1,1150.3 682.0,1159.9 687.1,1142.6 691.1,1150.3 697.3,1140.7 702.4,1142.4 707.1,1146.3 712.5,1114.1 719.1,1098.2 722.7,1103.2 727.1,1130.2 732.8,1110.5 739.1,1098.2 743.0,1096.4 748.1,1114.4 751.2,1114.2 759.2,1150.3 763.3,1165.0 768.4,1170.4 771.2,1162.3 778.6,1141.5 783.2,1142.3 791.2,1170.3 793.8,1173.2 798.9,1150.3 803.2,1154.3 809.0,1171.3 815.2,1170.3 819.2,1151.8 823.2,1142.3 829.4,1141.6 835.2,1150.3 839.5,1167.9 844.6,1162.5 847.2,1170.3 854.8,1183.8 859.3,1178.3 864.9,1178.9 870.0,1161.4 875.3,1162.3 880.2,1168.9 883.3,1190.3 890.3,1200.7 895.3,1218.3 900.5,1198.9 907.3,1194.3 910.6,1199.1 915.7,1220.0 919.3,1242.4 925.9,1224.2 931.3,1202.3 936.0,1218.4 943.3,1230.3 946.2,1234.5 951.3,1214.4 956.4,1231.0 959.4,1218.3 966.5,1217.4 971.6,1197.6 975.4,1202.3 981.8,1207.9 986.8,1230.9 991.9,1224.9" fill="none" stroke="#ffa014" stroke-width="2.0" stroke-linejoin="round" />
<polyline points="643.0,1126.2 648.1,1128.0 655.1,1122.2 658.3,1122.7 663.1,1114.2 668.4,1083.0 673.1,1070.2 681.1,1082.2 683.7,1076.5 689.1,1050.2 693.8,1043.6 697.1,1030.1 704.0,1026.6 707.1,1030.1 715.1,1058.2 719.2,1074.3 723.1,1078.2 731.1,1050.2 734.5,1062.4 739.1,1070.2 747.1,1058.2 749.7,1051.1 754.8,1054.3 759.2,1042.2 767.2,1002.1 770.0,1009.1 775.1,997.0 780.2,1012.6 783.2,1010.1 791.2,982.1 795.4,991.7 799.2,1018.1 805.6,1016.9 811.2,1030.1 815.8,1036.9 823.2,1034.1 825.9,1015.1 831.2,994.1 836.1,1028.2 843.2,1058.2 846.2,1056.9 851.3,1038.0 855.3,1038.1 861.5,1018.6 867.3,994.1 871.6,1011.3 876.7,1003.5 879.3,1018.1 887.3,1046.2 892.0,1022.0 899.3,1006.1 902.1,996.5 907.2,993.1 912.3,995.2 915.3,998.1 923.3,1034.1 927.5,1042.5 932.6,1021.6 935.3,1030.1 942.8,1015.4 947.3,1018.1 952.9,1027.0 959.4,1026.1 963.1,1035.0 968.2,1028.2 971.4,1034.1 978.3,1042.5 983.4,1062.2 988.5,1033.8 995.4,1014.1" fill="none" stroke="#ff3522" stroke-width="4.6" stroke-linejoin="round" stroke-dasharray="9,5" />
<polyline points="616.0,1194.8 621.1,1190.3 627.0,1162.3 631.2,1174.3 636.3,1166.6 639.0,1178.3 646.5,1179.2 651.1,1186.3 656.6,1185.6 663.1,1190.3 666.8,1189.0 671.9,1206.2 679.1,1206.3 682.0,1202.0 687.1,1222.3 692.2,1210.9 695.1,1218.3 702.4,1242.7 707.4,1239.8 711.1,1250.4 719.1,1190.3 722.7,1195.4 727.8,1216.8 731.1,1234.3 737.9,1249.1 743.1,1266.4 748.1,1238.0 753.2,1230.1 759.2,1198.3 763.3,1219.0 768.4,1219.5 771.2,1238.3 778.6,1215.8 783.2,1210.3 788.7,1201.4 795.2,1210.3 798.9,1212.1 804.0,1214.7 811.2,1234.3 814.1,1235.5 819.2,1211.2 823.2,1206.3 829.4,1212.1 835.2,1230.3 839.5,1228.9 844.6,1201.3 847.2,1202.3 854.8,1202.3 859.8,1224.1 863.3,1222.3 870.0,1207.2 875.1,1196.2 879.3,1178.3 885.2,1172.2 891.3,1150.3 895.4,1185.5 900.5,1200.6 903.3,1226.3 910.6,1199.7 915.7,1182.6 919.3,1178.3 925.9,1185.3 931.3,1202.3 936.0,1179.9 943.3,1170.3 946.2,1170.4 951.3,1185.3 956.4,1185.1 959.4,1194.3 966.5,1206.6 971.4,1230.3 976.7,1197.1 983.4,1170.3 986.8,1165.8 991.9,1184.5" fill="none" stroke="#6699fb" stroke-width="4.6" stroke-linejoin="round" />
<polyline points="616.0,1163.0 621.1,1163.5 626.2,1151.4 629.0,1134.2 636.3,1164.9 639.0,1166.3 646.5,1161.5 651.1,1146.3 656.6,1172.5 663.1,1186.3 666.8,1183.7 671.9,1195.4 675.1,1194.3 682.0,1181.0 687.1,1184.9 691.1,1178.3 697.3,1181.3 702.4,1192.6 707.1,1194.3 712.5,1195.7 719.1,1178.3 722.7,1180.8 727.1,1206.3 732.8,1190.0 739.1,1182.3 743.0,1186.2 748.1,1210.0 751.2,1206.3 758.2,1187.0 763.2,1178.3 768.4,1182.0 775.2,1198.3 778.6,1199.4 783.2,1178.3 788.7,1174.6 795.2,1154.3 798.9,1169.6 804.0,1169.0 807.2,1178.3 814.1,1166.2 819.2,1170.3 824.3,1169.7 831.2,1178.3 834.4,1169.5 839.5,1174.6 843.2,1166.3 849.7,1166.3 854.8,1143.7 859.3,1142.3 864.9,1156.7 870.0,1149.4 875.3,1162.3 880.2,1146.6 887.3,1142.3 890.3,1152.0 895.3,1178.3 900.5,1138.4 905.3,1118.2 910.6,1133.2 915.3,1134.2 920.8,1132.0 925.9,1155.2 931.3,1154.3 936.0,1133.4 943.3,1118.2 946.2,1132.2 951.3,1124.0 956.4,1146.4 959.4,1142.3 966.5,1144.1 971.6,1122.1 975.4,1126.2 981.8,1116.2 987.4,1112.2 991.9,1115.6" fill="none" stroke="#55d5fd" stroke-width="4.6" stroke-linejoin="round" />
<polyline points="616.0,1138.2 621.1,1139.1 626.2,1148.2 631.0,1138.2 636.3,1145.9 643.0,1162.3 646.5,1150.5 651.6,1162.1 655.1,1154.3 661.7,1161.5 667.1,1162.3 671.9,1168.9 679.1,1158.3 682.0,1152.8 687.1,1158.1 691.1,1150.3 697.3,1160.4 701.1,1158.3 707.1,1114.2 712.5,1129.3 715.1,1130.2 722.7,1118.9 727.1,1102.2 732.8,1103.9 737.1,1098.2 743.0,1121.3 747.1,1150.3 755.2,1106.2 758.2,1104.3 763.2,1126.2 768.4,1109.8 771.2,1114.2 778.6,1116.9 783.2,1114.2 791.2,1098.2 793.8,1100.0 799.2,1126.2 804.0,1131.5 811.2,1114.2 814.1,1115.9 819.2,1102.2 824.3,1111.0 831.2,1110.2 834.4,1123.3 839.2,1118.2 844.6,1103.1 851.3,1090.2 854.8,1096.8 859.8,1075.0 863.3,1082.2 870.0,1072.6 875.3,1070.2 880.2,1082.0 887.3,1106.2 890.3,1114.7 895.4,1111.1 900.5,1091.3 903.3,1098.2 910.6,1108.5 915.3,1102.2 920.8,1104.0 925.9,1083.2 931.3,1082.2 936.0,1092.3 939.3,1110.2 947.3,1058.2 951.3,1061.9 956.4,1087.4 959.4,1090.2 966.5,1077.1 971.6,1060.2 975.4,1054.2 983.4,1090.2 986.8,1090.2 991.9,1064.4" fill="none" stroke="#ffa014" stroke-width="4.6" stroke-linejoin="round" />
<polyline points="616.0,1149.8 621.0,1178.3 626.2,1151.0 629.0,1146.3 635.0,1158.3 643.0,1134.2 646.5,1190.6 651.1,1242.4 659.1,1154.3 661.7,1123.7 667.1,1078.2 671.9,1058.1 677.1,1050.2 682.0,1029.5 687.1,1026.1 693.1,992.1 699.1,1018.1 702.4,999.2 707.4,997.6 711.1,976.1 719.1,986.1 722.7,1003.2 727.1,1010.1 732.8,998.9 737.1,998.1 743.0,981.3 747.1,974.1 753.2,1022.1 758.2,996.2 763.2,964.1 769.2,984.1 773.5,957.2 779.2,928.0 783.6,946.4 787.2,976.1 795.2,998.1 798.9,995.5 804.0,974.1 807.2,970.1 814.1,959.6 817.2,966.1 824.3,968.4 827.2,978.1 834.4,954.2 839.2,954.1 844.6,971.2 847.2,974.1 855.3,1018.1 859.8,996.8 863.3,986.1 870.0,973.7 875.3,970.1 880.2,988.4 883.3,1010.1 890.3,989.6 895.3,990.1 900.5,986.3 903.3,980.1 910.6,988.0 915.3,986.1 923.3,984.1 925.9,981.9 931.0,1003.0 935.3,998.1 941.1,998.0 947.3,1010.1 951.3,995.5 956.4,991.5 961.4,970.1 966.5,990.2 971.4,990.1 976.7,999.2 983.4,992.1 986.8,1002.0 991.9,999.0" fill="none" stroke="#ff3522" stroke-width="4.6" stroke-linejoin="round" />
<polyline points="106.0,1780.1 114.0,1779.1 120.0,1786.1 130.0,1788.1 140.0,1786.1 148.0,1780.1 156.1,1786.1 164.1,1778.1 172.1,1780.1 180.1,1774.1 188.1,1782.1 196.1,1788.1 204.1,1787.1 212.1,1782.1 220.1,1788.1 224.1,1786.1 232.1,1789.1 240.1,1789.1 252.2,1789.1 264.2,1789.1 276.2,1789.1 300.0,1789.1 320.2,1788.3 340.2,1786.3 360.3,1788.3 380.3,1786.3 400.3,1789.1 420.3,1786.3 436.3,1780.3 460.4,1786.3 486.4,1782.3" fill="none" stroke="#22b194" stroke-width="3.6" stroke-linejoin="round" stroke-dasharray="10,6" />
<polyline points="106.0,1787.1 116.0,1787.1 126.0,1788.1 136.0,1778.1 146.0,1773.1 152.1,1776.1 160.1,1782.1 170.1,1780.1 180.1,1774.1 190.1,1767.1 198.1,1772.1 204.1,1776.1 212.1,1768.1 220.1,1766.1 228.1,1766.1 236.1,1771.1 244.1,1776.1 252.2,1774.1 260.2,1770.1 270.2,1778.1 280.2,1778.1 290.2,1774.1 300.0,1771.1 312.2,1780.3 324.2,1776.3 340.2,1776.3 356.3,1776.3 372.3,1780.3 388.3,1782.3 404.3,1780.3 420.3,1786.3 440.3,1786.3 460.4,1782.3 486.4,1782.3" fill="none" stroke="#d97d36" stroke-width="3.6" stroke-linejoin="round" stroke-dasharray="10,6" />
<polyline points="106.0,1782.1 116.0,1786.1 126.0,1786.1 136.0,1782.1 144.0,1779.1 150.1,1776.1 158.1,1780.1 166.1,1786.1 176.1,1780.1 186.1,1774.1 198.1,1758.1 208.1,1746.1 214.1,1724.0 218.1,1713.0 222.1,1724.0 226.1,1740.1 236.1,1726.0 242.1,1720.0 248.1,1730.1 256.2,1730.1 262.2,1750.1 272.2,1750.1 278.2,1750.1 284.2,1768.1 292.2,1766.1 300.0,1772.1 308.2,1748.3 316.2,1772.3 328.2,1768.3 336.2,1766.3 348.2,1776.3 364.3,1772.3 380.3,1772.3 396.3,1780.3 408.3,1778.3 424.3,1786.3 440.3,1780.3 460.4,1786.3 486.4,1788.3" fill="none" stroke="#7c87c8" stroke-width="3.6" stroke-linejoin="round" stroke-dasharray="10,6" />
<polyline points="106.0,1788.1 120.0,1789.1 140.0,1789.1 160.1,1789.1 180.1,1789.1 190.1,1789.1 200.1,1787.1 208.1,1778.1 214.1,1780.1 220.1,1778.1 226.1,1776.1 232.1,1768.1 240.1,1778.1 248.1,1768.1 256.2,1774.1 264.2,1772.1 272.2,1760.1 280.2,1752.1 288.2,1748.1 294.2,1749.1 300.0,1740.1 308.2,1756.3 316.2,1744.3 324.2,1744.3 336.2,1740.3 344.2,1724.3 352.3,1744.3 360.3,1714.3 368.3,1720.3 376.3,1704.3 384.3,1698.3 396.3,1696.3 404.3,1684.2 412.3,1696.3 428.3,1694.3 436.3,1676.2 444.3,1686.2 450.4,1666.2 458.4,1700.3 465.2,1712.3 472.4,1672.2 480.4,1692.3 486.4,1728.3" fill="none" stroke="#d97d36" stroke-width="3.6" stroke-linejoin="round" />
<polyline points="106.0,1789.1 116.0,1789.1 126.0,1789.1 136.0,1789.1 146.0,1789.1 156.1,1789.1 166.1,1789.1 176.1,1788.1 184.1,1785.1 192.1,1778.1 200.1,1774.1 210.1,1757.1 218.1,1759.1 225.1,1762.1 232.1,1756.1 240.1,1753.1 248.1,1738.1 256.2,1730.1 263.2,1720.0 270.2,1734.1 277.2,1743.1 284.2,1738.1 292.2,1733.1 300.0,1728.0 312.2,1736.3 322.2,1738.3 330.2,1750.3 340.2,1736.3 352.3,1732.3 360.3,1736.3 368.3,1754.3 380.3,1744.3 388.3,1748.3 397.1,1720.3 404.3,1758.3 412.3,1736.3 420.3,1732.3 434.3,1750.3 444.3,1728.3 449.1,1725.1 458.4,1734.3 465.2,1740.3 474.4,1732.3 480.4,1734.3 486.4,1754.3" fill="none" stroke="#7c87c8" stroke-width="3.6" stroke-linejoin="round" />
<polyline points="106.0,1786.3 124.0,1788.3 140.0,1789.1 148.0,1788.3 152.1,1786.3 158.1,1560.1 165.3,1478.0 173.3,1552.1 182.1,1604.2 188.1,1664.2 194.9,1716.3 204.1,1728.3 212.1,1740.3 218.1,1776.3 228.1,1776.3 238.1,1788.3 252.2,1789.1 272.2,1789.1 300.2,1789.1 340.2,1789.1 380.3,1789.1 420.3,1789.1 460.4,1789.1 486.4,1789.1" fill="none" stroke="#22b194" stroke-width="3.6" stroke-linejoin="round" />
<polyline points="106.0,2222.3 116.0,2218.3 124.0,2236.3 140.0,2226.3 150.1,2230.3 158.1,2170.3 165.3,2078.2 172.1,2154.3 182.1,2158.3 192.1,2230.3 204.1,2236.3 216.1,2222.3 224.1,2236.3 260.2,2239.1 300.2,2238.7 340.2,2239.1 380.3,2238.7 420.3,2239.1 440.3,2232.3 486.4,2236.3" fill="none" stroke="#22b194" stroke-width="3.6" stroke-linejoin="round" stroke-dasharray="10,6" />
<polyline points="106.0,2239.1 116.0,2236.3 124.0,2222.3 134.0,2206.3 144.0,2186.3 154.1,2202.3 164.1,2226.3 176.1,2222.3 186.1,2210.3 196.1,2202.3 206.1,2222.3 216.1,2206.3 226.1,2194.3 234.1,2218.3 244.1,2210.3 258.2,2210.3 268.2,2222.3 280.2,2226.3 290.2,2202.3 300.2,2186.3 307.4,2236.3 316.2,2206.3 326.2,2182.3 336.2,2210.3 348.2,2218.3 360.3,2222.3 376.3,2222.3 396.3,2232.3 412.3,2222.3 428.3,2226.3 444.3,2230.3 460.4,2236.3 486.4,2222.3" fill="none" stroke="#d97d36" stroke-width="3.6" stroke-linejoin="round" stroke-dasharray="10,6" />
<polyline points="106.0,2222.3 120.0,2236.3 132.0,2230.3 144.0,2226.3 150.1,2222.3 160.1,2239.1 176.1,2236.3 186.1,2202.3 196.1,2170.3 204.1,2146.3 212.1,2114.2 218.1,2050.2 224.1,2114.2 232.1,2078.2 240.1,2062.2 248.1,2064.2 255.4,2040.2 264.2,2078.2 272.2,2082.2 278.2,2098.2 284.2,2170.3 292.2,2170.3 300.2,2190.3 307.4,2028.1 315.4,2198.3 322.2,2166.3 330.2,2186.3 338.2,2172.3 345.0,2186.3 352.3,2222.3 360.3,2206.3 372.3,2210.3 382.3,2194.3 390.3,2218.3 404.3,2214.3 420.3,2236.3 436.3,2236.3 452.4,2238.3 486.4,2238.3" fill="none" stroke="#7c87c8" stroke-width="3.6" stroke-linejoin="round" stroke-dasharray="10,6" />
<polyline points="106.0,2236.3 120.0,2202.3 130.0,2230.3 140.0,2202.3 150.1,2210.3 158.1,2218.3 165.3,2190.3 172.1,2236.3 180.1,2222.3 188.1,2170.3 196.1,2166.3 202.1,2162.3 210.1,2130.2 218.1,2118.2 226.1,2130.2 232.1,2094.2 242.1,2110.2 254.2,2128.2 264.2,2090.2 276.2,2078.2 284.2,2066.2 294.2,2082.2 302.2,2074.2 307.4,2042.2 315.4,2082.2 322.2,2078.2 330.2,2054.2 339.4,2084.2 345.0,2066.2 353.1,2088.2 360.3,2066.2 368.3,2054.2 382.3,2014.1 396.3,2066.2 404.3,2040.2 412.3,2050.2 420.3,2078.2 434.3,2054.2 442.3,2078.2 450.4,2070.2 458.4,2082.2 465.2,2086.2 472.4,2062.2 480.4,2082.2 486.4,2092.2" fill="none" stroke="#d97d36" stroke-width="3.6" stroke-linejoin="round" />
<polyline points="106.0,2226.3 116.0,2222.3 124.0,2218.3 132.0,2210.3 143.2,2158.3 150.1,2222.3 160.1,2236.3 176.1,2236.3 186.1,2182.3 195.3,2120.2 204.1,2122.2 211.3,2074.2 220.1,2062.2 226.1,2062.2 234.1,2066.2 240.1,2056.2 248.1,2046.2 255.4,2014.1 262.2,2004.1 270.2,2042.2 278.2,2040.2 286.2,2048.2 300.2,2058.2 307.4,2052.2 318.2,2054.2 330.2,2048.2 339.4,2054.2 345.0,2062.2 352.3,2038.1 360.3,2070.2 368.3,2096.2 376.3,2094.2 382.3,2096.2 390.3,2108.2 397.1,2070.2 405.1,2128.2 412.3,2092.2 420.3,2086.2 426.3,2102.2 434.3,2134.2 442.3,2104.2 450.4,2104.2 458.4,2100.2 465.2,2100.2 472.4,2106.2 480.4,2098.2 486.4,2114.2" fill="none" stroke="#7c87c8" stroke-width="3.6" stroke-linejoin="round" />
<polyline points="106.0,2236.3 114.0,2198.3 122.0,2236.3 130.0,2236.3 138.0,2218.3 146.0,2239.1 152.1,2170.3 158.1,1928.0 165.3,1906.0 173.3,1958.1 182.1,1982.1 188.1,2042.2 196.1,2094.2 204.1,2122.2 210.1,2150.3 218.1,2202.3 226.1,2198.3 232.1,2206.3 240.1,2236.3 252.2,2239.1 268.2,2238.3 276.2,2236.3 284.2,2228.3 292.2,2239.1 300.2,2230.3 308.2,2239.1 322.2,2224.3 332.2,2239.1 344.2,2232.3 352.3,2239.1 360.3,2222.3 368.3,2239.1 380.3,2218.3 388.3,2239.1 404.3,2236.3 420.3,2238.3 436.3,2232.3 452.4,2236.3 468.4,2238.3 486.4,2236.3" fill="none" stroke="#22b194" stroke-width="3.6" stroke-linejoin="round" />
<polyline points="616.0,1785.9 621.1,1788.0 626.2,1786.1 631.2,1785.7 636.3,1788.0 639.0,1786.3 646.5,1783.8 651.1,1780.3 656.6,1781.9 663.1,1786.3 666.8,1786.7 671.9,1785.5 679.1,1782.3 682.0,1783.7 687.1,1782.1 692.2,1783.6 695.1,1786.3 702.4,1788.0 707.4,1786.4 712.5,1788.0 719.1,1788.0 722.7,1788.0 727.8,1785.9 732.8,1788.0 737.9,1788.0 743.1,1786.3 748.1,1787.5 753.2,1788.0 758.2,1786.1 763.3,1788.0 767.2,1788.0 773.5,1788.0 778.6,1786.3 783.6,1787.4 791.2,1785.5 793.8,1787.0 798.9,1785.2 804.0,1788.0 809.0,1786.3 815.2,1788.0 819.2,1786.8 824.3,1788.0 829.4,1786.4 834.4,1788.0 839.2,1786.3 844.6,1786.2 849.7,1788.0 854.8,1785.8 859.8,1788.0 863.3,1788.0 870.0,1788.0 875.1,1785.1 880.2,1788.0 887.3,1785.5 890.3,1787.1 895.4,1788.0 900.5,1785.8 905.6,1785.9 911.3,1788.0 915.7,1788.0 920.8,1788.0 925.9,1788.0 931.0,1784.9 935.3,1786.3 941.1,1784.9 946.2,1788.0 951.3,1787.2 956.4,1788.0 959.4,1788.0 966.5,1785.5 971.6,1787.8 976.7,1787.8 983.4,1785.5 986.8,1788.0 991.9,1785.1" fill="none" stroke="#22b194" stroke-width="3.6" stroke-linejoin="round" stroke-dasharray="10,6" />
<polyline points="616.0,1784.7 621.1,1788.0 626.2,1786.4 631.0,1788.0 636.3,1786.7 641.4,1781.5 646.5,1780.1 651.1,1776.3 656.6,1780.6 663.1,1780.3 666.8,1782.4 671.9,1781.9 679.1,1786.3 682.0,1783.1 687.1,1785.4 692.2,1783.8 695.1,1780.3 702.4,1784.9 707.4,1786.0 712.5,1787.4 715.1,1786.3 722.7,1782.5 727.8,1779.4 731.1,1780.3 737.9,1779.9 743.0,1774.9 747.1,1776.3 753.2,1771.9 759.2,1772.3 763.3,1773.2 768.4,1773.4 775.2,1778.3 778.6,1774.6 783.2,1772.3 788.7,1773.5 795.2,1780.3 798.9,1778.6 804.0,1781.1 811.2,1778.3 814.1,1779.0 819.2,1775.5 824.3,1778.2 827.2,1776.3 834.4,1780.0 839.5,1777.9 844.6,1781.7 847.2,1780.3 854.8,1784.6 859.8,1782.1 864.9,1782.8 871.3,1786.3 875.1,1783.1 880.2,1786.4 887.3,1782.3 890.3,1781.2 895.4,1785.1 900.5,1786.4 905.6,1786.1 911.3,1786.3 915.7,1785.3 920.8,1787.8 925.9,1785.2 931.0,1788.0 936.0,1787.2 939.3,1788.0 946.2,1786.7 951.3,1788.0 956.4,1786.2 961.4,1788.0 966.5,1786.4 971.6,1788.0 976.7,1787.7 981.8,1786.1 986.8,1788.0 991.9,1785.9" fill="none" stroke="#d97d36" stroke-width="3.6" stroke-linejoin="round" stroke-dasharray="10,6" />
<polyline points="616.0,1781.8 621.1,1786.8 626.2,1785.6 631.0,1788.0 636.3,1788.0 641.4,1786.5 646.5,1788.0 651.1,1786.3 656.6,1787.4 661.7,1788.0 666.8,1785.7 671.1,1786.3 677.0,1782.5 682.0,1780.5 687.1,1780.3 692.2,1779.3 697.3,1778.3 703.1,1780.3 707.4,1779.9 712.5,1772.9 715.1,1772.3 723.1,1764.3 727.8,1768.3 731.1,1768.3 737.9,1769.8 743.1,1772.3 748.1,1772.4 753.2,1779.1 759.2,1780.3 763.3,1782.9 768.4,1783.2 775.2,1786.3 778.6,1784.7 783.6,1783.9 791.2,1786.3 793.8,1784.5 798.9,1786.4 804.0,1785.2 807.2,1782.3 814.1,1785.9 819.2,1786.0 823.2,1786.3 829.4,1787.0 834.4,1784.0 839.2,1786.3 844.6,1788.0 849.7,1785.9 854.8,1788.0 859.3,1788.0 864.9,1788.0 870.0,1786.6 875.1,1787.7 879.3,1786.3 885.2,1788.0 890.3,1786.4 895.4,1788.0 900.5,1785.7 903.3,1788.0 910.6,1788.0 915.7,1785.9 920.8,1786.4 925.9,1788.0 931.0,1785.2 936.0,1787.9 941.1,1785.7 947.3,1786.3 951.3,1785.0 956.4,1785.2 961.4,1784.0 966.5,1788.0 971.6,1785.2 976.7,1787.1 981.8,1784.5 986.8,1787.4 991.9,1788.0" fill="none" stroke="#7c87c8" stroke-width="3.6" stroke-linejoin="round" stroke-dasharray="10,6" />
<polyline points="616.0,1786.6 621.1,1788.0 626.2,1788.0 631.0,1788.0 636.3,1788.0 641.4,1785.4 647.0,1788.0 651.6,1788.0 656.6,1785.3 663.1,1786.3 666.8,1781.4 671.9,1784.5 679.1,1778.3 682.0,1780.9 687.1,1778.1 691.1,1776.3 697.3,1781.6 703.1,1780.3 707.4,1773.3 711.1,1772.3 719.1,1760.3 725.1,1748.3 727.8,1752.7 731.1,1762.3 739.1,1756.3 743.0,1750.3 747.1,1750.3 753.2,1740.3 759.2,1736.3 763.3,1736.2 767.2,1740.3 775.2,1736.3 778.6,1730.8 783.2,1720.3 791.2,1712.3 795.2,1728.3 798.9,1721.8 803.2,1708.3 811.2,1716.3 814.1,1709.5 819.2,1700.3 824.3,1701.7 827.2,1704.3 835.2,1696.3 839.5,1702.8 843.2,1704.3 849.3,1676.2 854.8,1678.0 859.3,1684.2 865.3,1662.2 871.3,1676.2 875.3,1654.2 880.2,1669.2 883.3,1676.2 889.3,1664.2 895.3,1652.2 900.5,1650.5 903.3,1648.2 909.3,1630.2 915.3,1664.2 923.3,1644.2 927.3,1662.2 931.0,1642.0 935.3,1614.2 943.3,1636.2 946.2,1635.5 951.4,1640.2 956.4,1626.7 963.4,1612.2 966.5,1626.1 969.4,1636.2 977.4,1628.2 983.4,1640.2 986.8,1633.5 989.4,1630.2" fill="none" stroke="#d97d36" stroke-width="3.6" stroke-linejoin="round" />
<polyline points="616.0,1784.1 621.1,1784.3 626.2,1788.0 631.0,1788.0 636.3,1788.0 641.4,1785.9 647.0,1787.1 651.6,1788.0 656.6,1785.4 663.1,1786.3 666.8,1785.9 671.9,1777.5 679.1,1772.3 682.0,1764.1 687.1,1757.9 691.1,1752.3 699.1,1760.3 702.4,1757.0 707.1,1748.3 712.5,1745.4 719.1,1738.3 722.7,1741.9 727.1,1752.3 732.8,1753.0 737.1,1748.3 743.0,1747.0 747.1,1740.3 753.2,1760.3 758.2,1742.8 761.2,1736.3 769.2,1740.3 773.5,1722.1 778.4,1708.3 785.2,1738.3 788.7,1742.4 795.2,1740.3 798.9,1747.3 803.2,1748.3 811.2,1736.3 814.1,1736.3 819.2,1740.3 824.3,1737.6 829.2,1732.3 834.4,1730.8 839.2,1726.3 844.6,1725.0 847.2,1728.3 855.3,1748.3 859.8,1740.4 863.3,1730.3 870.0,1729.5 875.3,1726.3 880.2,1740.0 883.3,1746.3 891.3,1738.3 895.4,1737.8 900.5,1732.9 903.3,1728.3 911.3,1738.3 915.7,1736.2 919.3,1736.3 925.9,1742.1 931.3,1742.3 936.0,1748.6 939.3,1748.3 946.2,1743.0 951.4,1736.3 956.4,1735.9 963.4,1730.3 966.5,1731.8 971.6,1740.7 975.4,1742.3 981.8,1734.5 986.8,1734.7 989.4,1730.3" fill="none" stroke="#7c87c8" stroke-width="3.6" stroke-linejoin="round" />
<polyline points="616.0,1783.4 621.1,1788.0 627.0,1788.0 631.2,1785.2 635.0,1780.3 643.0,1788.0 647.0,1786.3 653.1,1632.2 656.6,1564.7 661.1,1478.0 667.1,1548.1 671.1,1700.3 677.1,1744.3 682.0,1753.9 685.1,1764.3 693.1,1782.3 697.3,1783.8 703.1,1788.0 707.4,1788.0 712.5,1785.9 719.1,1788.0 722.7,1787.8 727.8,1788.0 732.8,1788.0 737.9,1788.0 743.0,1786.4 748.1,1788.0 753.2,1785.4 759.2,1788.0 763.3,1787.7 768.4,1788.0 773.5,1788.0 778.6,1787.7 783.6,1788.0 788.7,1787.5 793.8,1788.0 799.2,1788.0 804.0,1787.5 809.0,1788.0 814.1,1787.8 819.2,1788.0 824.3,1785.6 829.4,1788.0 834.4,1786.7 839.2,1788.0 844.6,1787.6 849.7,1788.0 854.8,1788.0 859.8,1787.1 864.9,1788.0 870.0,1788.0 875.1,1787.2 879.3,1788.0 885.2,1788.0 890.3,1786.6 895.4,1788.0 900.5,1787.1 905.6,1788.0 910.6,1785.8 915.7,1788.0 920.8,1788.0 925.9,1783.9 931.3,1786.3 936.0,1788.0 941.1,1785.7 946.2,1788.0 951.3,1788.0 956.4,1787.3 959.4,1788.0 966.5,1785.9 971.6,1784.7 976.7,1788.0 981.8,1782.5 987.4,1782.3 991.9,1784.4" fill="none" stroke="#22b194" stroke-width="3.6" stroke-linejoin="round" />
<polyline points="616.0,2236.5 621.1,2234.2 626.2,2226.5 631.0,2222.3 636.3,2233.3 639.0,2236.3 646.5,2231.4 651.1,2232.3 656.6,2235.3 661.7,2233.3 667.1,2236.3 671.9,2235.3 679.1,2230.3 682.0,2234.1 687.1,2232.7 691.1,2236.3 697.3,2235.9 703.1,2239.0 707.4,2237.5 712.5,2238.8 717.6,2236.3 722.7,2237.8 727.8,2234.5 732.8,2235.8 737.9,2236.3 743.0,2232.8 748.1,2230.8 751.2,2232.3 758.2,2233.2 763.3,2236.7 768.4,2234.3 773.5,2239.0 779.2,2239.0 783.6,2236.8 788.7,2239.0 793.8,2237.8 798.9,2239.0 804.0,2237.1 809.0,2239.0 814.1,2236.6 819.2,2237.1 824.3,2235.7 829.4,2239.0 834.4,2238.7 839.5,2239.0 844.6,2237.7 849.7,2239.0 854.8,2237.0 859.3,2239.0 864.9,2239.0 870.0,2236.1 875.1,2236.1 880.2,2239.0 885.2,2236.0 890.3,2236.8 895.4,2238.2 899.3,2237.1 905.6,2239.0 910.6,2236.0 915.7,2239.0 920.8,2239.0 925.9,2237.5 931.0,2239.0 936.0,2236.7 939.3,2239.0 946.2,2237.0 951.3,2237.1 956.4,2239.0 961.4,2237.7 966.5,2239.0 971.6,2238.1 976.7,2239.0 981.8,2237.2 986.8,2239.0 991.9,2238.1" fill="none" stroke="#22b194" stroke-width="3.6" stroke-linejoin="round" stroke-dasharray="10,6" />
<polyline points="616.0,2238.1 621.1,2239.0 626.2,2236.1 631.0,2236.3 636.3,2239.0 641.4,2237.4 647.0,2239.0 651.6,2237.5 656.6,2239.0 663.1,2236.3 666.8,2238.9 671.9,2236.1 679.1,2238.3 682.0,2236.8 687.1,2238.4 692.2,2235.1 695.1,2236.3 702.4,2236.3 707.4,2237.7 711.1,2239.0 719.1,2236.3 722.7,2234.6 727.8,2225.3 731.1,2222.3 737.9,2219.4 743.1,2214.3 748.1,2215.9 755.2,2212.3 758.2,2210.8 763.2,2210.3 768.4,2212.1 771.2,2214.3 777.2,2206.3 783.2,2226.3 788.7,2229.7 795.2,2230.3 798.9,2229.3 804.0,2223.2 807.2,2222.3 814.1,2223.4 819.2,2222.3 824.3,2215.0 827.2,2214.3 834.4,2225.7 839.2,2236.3 844.6,2230.1 851.3,2226.3 854.8,2230.7 859.8,2232.5 863.3,2236.3 870.0,2232.5 875.1,2234.2 879.3,2230.3 887.3,2218.3 890.3,2224.9 895.4,2228.4 899.3,2236.3 905.6,2234.0 910.6,2235.5 915.3,2236.3 920.8,2239.0 925.9,2239.0 931.0,2237.8 935.3,2239.0 941.1,2237.7 946.2,2239.0 951.3,2239.0 956.4,2239.0 959.4,2238.3 966.5,2239.0 971.6,2236.2 976.7,2238.7 979.4,2236.3 986.8,2235.2 991.9,2239.0" fill="none" stroke="#d97d36" stroke-width="3.6" stroke-linejoin="round" stroke-dasharray="10,6" />
<polyline points="616.0,2229.3 621.1,2234.0 626.2,2235.9 631.0,2236.3 636.3,2235.7 643.0,2230.3 646.5,2234.2 651.6,2236.1 659.1,2239.0 661.7,2239.0 666.8,2236.6 671.1,2236.3 677.0,2229.9 683.1,2226.3 687.1,2226.5 691.1,2222.3 697.3,2223.9 703.1,2222.3 707.4,2214.6 711.1,2206.3 719.1,2182.3 722.7,2182.4 727.1,2178.3 735.1,2190.3 737.9,2196.9 743.1,2206.3 748.1,2206.8 751.2,2210.3 759.2,2222.3 763.3,2224.7 768.4,2226.6 771.2,2226.3 778.6,2231.1 783.2,2230.3 788.7,2233.5 793.8,2232.7 799.2,2236.3 804.0,2235.1 809.0,2238.6 815.2,2236.3 819.2,2239.0 824.3,2236.7 831.2,2238.3 834.4,2237.2 839.5,2236.6 844.6,2238.2 847.2,2236.3 854.8,2238.2 859.8,2235.1 864.9,2238.6 870.0,2235.3 875.1,2239.0 879.3,2238.3 885.2,2236.7 890.3,2239.0 895.4,2239.0 900.5,2238.1 905.6,2239.0 910.6,2238.3 915.7,2239.0 919.3,2239.0 925.9,2239.0 931.0,2239.0 936.0,2236.9 941.1,2239.0 946.2,2239.0 951.3,2238.0 956.4,2239.0 961.4,2238.1 966.5,2239.0 971.6,2239.0 976.7,2238.3 981.8,2238.0 986.8,2237.8 991.9,2237.4" fill="none" stroke="#7c87c8" stroke-width="3.6" stroke-linejoin="round" stroke-dasharray="10,6" />
<polyline points="616.0,2219.4 623.0,2222.3 626.2,2219.1 631.0,2218.3 637.0,2226.3 643.8,2239.0 646.5,2239.0 651.1,2236.3 656.6,2236.2 663.1,2230.3 666.8,2228.1 671.9,2220.0 675.1,2218.3 681.1,2186.3 689.1,2202.3 692.2,2202.6 699.1,2198.3 702.4,2196.0 707.1,2190.3 713.1,2174.3 719.1,2182.3 722.7,2180.2 727.1,2170.3 735.1,2170.3 737.9,2170.6 743.1,2174.3 748.1,2162.4 753.2,2154.3 759.2,2162.3 763.3,2159.2 767.2,2162.3 775.2,2170.3 778.6,2170.3 783.2,2166.3 788.7,2162.9 795.2,2166.3 798.9,2160.1 803.2,2160.3 809.0,2162.5 815.2,2162.3 819.2,2164.8 824.3,2162.7 827.2,2166.3 835.2,2158.3 839.5,2162.5 844.6,2161.5 847.2,2164.3 855.3,2160.3 859.8,2164.5 863.3,2162.3 870.0,2162.0 875.3,2166.3 880.2,2160.0 885.3,2156.3 890.3,2159.4 895.3,2164.3 900.5,2160.2 907.3,2162.3 910.6,2161.8 915.7,2168.6 919.3,2166.3 925.9,2163.7 931.0,2161.2 935.3,2162.3 941.1,2160.9 947.3,2166.3 951.3,2167.8 956.4,2168.6 959.4,2166.3 967.4,2162.3 971.6,2166.4 976.7,2166.8 979.4,2166.3 986.8,2168.8 991.9,2162.9" fill="none" stroke="#d97d36" stroke-width="3.6" stroke-linejoin="round" />
<polyline points="616.0,2225.0 623.0,2236.3 626.2,2232.8 631.2,2233.9 635.0,2230.3 641.4,2222.8 645.0,2214.3 651.6,2230.5 655.1,2236.3 663.1,2239.0 666.8,2232.1 671.1,2218.3 677.1,2194.3 682.0,2180.9 685.1,2178.3 693.1,2154.3 697.3,2153.3 701.1,2148.3 707.4,2149.4 711.1,2154.3 719.1,2162.3 722.7,2165.3 727.1,2166.3 735.1,2186.3 737.9,2177.5 745.1,2162.3 748.1,2172.6 753.2,2184.3 758.2,2176.4 763.2,2166.3 768.4,2166.8 771.2,2170.3 778.4,2154.3 783.2,2174.3 788.7,2176.7 795.2,2182.3 798.9,2180.8 804.0,2183.5 807.2,2180.3 815.2,2188.3 819.2,2187.2 824.3,2178.4 827.2,2178.3 834.4,2178.8 839.2,2174.3 844.6,2179.2 847.2,2186.3 857.3,2188.3 859.8,2189.8 867.3,2188.3 870.0,2191.8 875.1,2193.2 879.3,2198.3 887.3,2194.3 890.3,2200.4 895.4,2204.6 899.3,2206.3 907.3,2192.3 910.6,2195.4 915.7,2195.4 919.3,2198.3 925.9,2197.2 931.3,2202.3 936.0,2201.0 943.3,2204.3 946.2,2198.0 951.3,2197.8 955.4,2192.3 961.4,2197.7 967.4,2198.3 971.6,2196.7 976.7,2200.4 979.4,2198.3 986.8,2201.6 991.9,2195.9" fill="none" stroke="#7c87c8" stroke-width="3.6" stroke-linejoin="round" />
<polyline points="616.0,2235.4 623.0,2236.3 626.2,2225.6 631.0,2214.3 637.0,2236.3 643.8,2239.0 646.5,2186.1 649.1,2130.2 655.1,1952.1 661.1,1940.1 666.3,1986.1 671.1,2108.2 679.1,2150.3 682.0,2161.0 687.1,2182.3 692.2,2204.4 695.1,2218.3 703.1,2238.3 707.4,2235.4 712.5,2236.2 715.1,2239.0 722.7,2235.7 727.8,2239.0 732.8,2236.9 737.9,2239.0 743.0,2236.1 748.1,2237.4 753.2,2239.0 759.2,2238.7 763.3,2236.2 768.4,2237.4 773.5,2236.1 778.6,2239.0 783.6,2236.4 788.7,2235.6 793.8,2239.0 799.2,2239.0 804.0,2239.0 809.0,2238.0 814.1,2236.8 819.2,2239.0 824.3,2237.7 829.4,2239.0 834.4,2236.9 839.2,2238.7 844.6,2235.4 849.7,2239.0 854.8,2236.3 859.8,2239.0 864.9,2239.0 870.0,2239.0 875.1,2239.0 879.3,2239.0 885.2,2239.0 890.3,2233.5 895.4,2237.0 900.5,2237.4 905.6,2233.0 910.6,2231.0 915.7,2229.6 923.3,2230.3 925.9,2229.7 931.0,2236.7 936.0,2234.8 939.3,2239.0 946.2,2236.6 951.3,2239.0 956.4,2235.8 961.4,2239.0 966.5,2239.0 971.6,2237.9 976.7,2239.0 981.8,2236.3 986.8,2235.9 991.9,2239.0" fill="none" stroke="#22b194" stroke-width="3.6" stroke-linejoin="round" />
</svg></body></html>
